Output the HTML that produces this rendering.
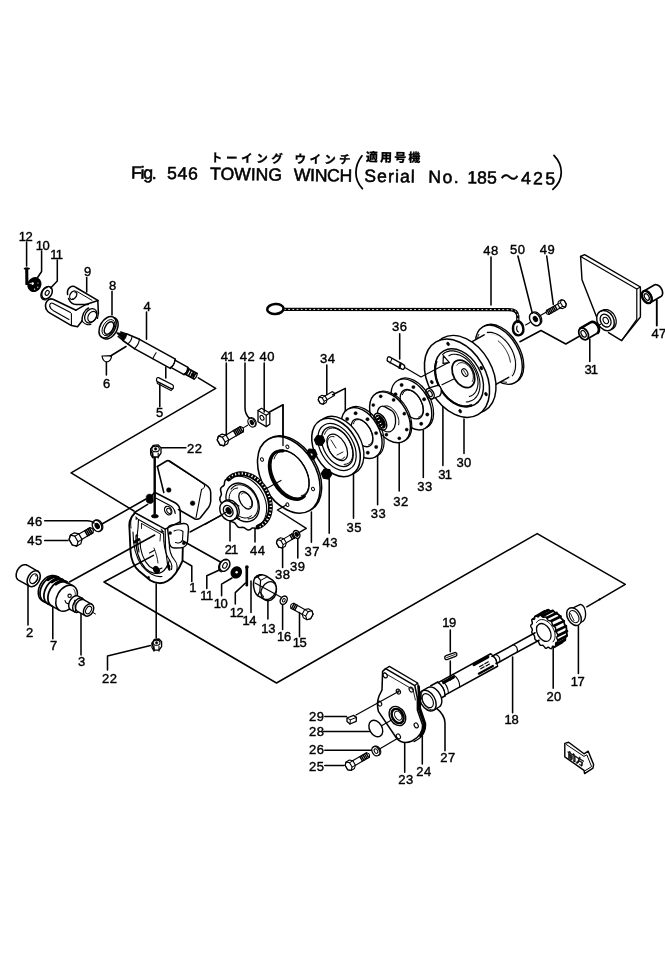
<!DOCTYPE html>
<html lang="ja">
<head>
<meta charset="utf-8">
<title>Fig. 546 TOWING WINCH</title>
<style>
html,body{margin:0;padding:0;background:#fff;}
body{width:665px;height:973px;overflow:hidden;}
svg{display:block;filter:grayscale(1);}
svg text{font-family:"Liberation Sans","Noto Sans CJK JP",sans-serif;fill:#000;}
svg text.n{stroke:#000;stroke-width:0.4px;}
</style>
</head>
<body>
<svg width="665" height="973" viewBox="0 0 665 973">
<rect x="0" y="0" width="665" height="973" fill="#fff"/>
<g>
<g transform="rotate(0.8 131 178.6)">
<text x="210.6" y="160.7" font-size="11.5" font-weight="bold" textLength="72" lengthAdjust="spacing" stroke="#000" stroke-width="0.3">トーイング</text>
<text x="294.4" y="160.7" font-size="11.5" font-weight="bold" textLength="56" lengthAdjust="spacing" stroke="#000" stroke-width="0.3">ウインチ</text>
<text x="365.6" y="158" font-size="12" font-weight="900" textLength="54.5" lengthAdjust="spacing" stroke="#000" stroke-width="0.2">適用号機</text>
<text x="131" y="178.6" font-size="17.6" font-weight="normal" textLength="25.6" lengthAdjust="spacing" stroke="#000" stroke-width="0.55">Fig.</text>
<text x="167" y="178.6" font-size="17.6" font-weight="normal" textLength="30.8" lengthAdjust="spacing" stroke="#000" stroke-width="0.55">546</text>
<text x="210" y="178.6" font-size="17.6" font-weight="normal" textLength="72" lengthAdjust="spacing" stroke="#000" stroke-width="0.55">TOWING</text>
<text x="293.8" y="178.6" font-size="17.6" font-weight="normal" textLength="58.4" lengthAdjust="spacing" stroke="#000" stroke-width="0.55">WINCH</text>
<text x="364.3" y="178.6" font-size="17.6" font-weight="normal" textLength="50.5" lengthAdjust="spacing" stroke="#000" stroke-width="0.55">Serial</text>
<text x="428.2" y="178.6" font-size="17.6" font-weight="normal" textLength="30.6" lengthAdjust="spacing" stroke="#000" stroke-width="0.55">No.</text>
<text x="467.2" y="178.6" font-size="17.6" font-weight="normal" textLength="29.6" lengthAdjust="spacing" stroke="#000" stroke-width="0.55">185</text>
<text x="500.5" y="178.6" font-size="18" font-weight="normal" textLength="18.5" lengthAdjust="spacing" stroke="#000" stroke-width="0.55">～</text>
<text x="521" y="178.6" font-size="17.6" font-weight="normal" textLength="34" lengthAdjust="spacing" stroke="#000" stroke-width="0.55">425</text>
<path d="M361.6 152.6 C354 163 353.5 176 362.5 185.4" fill="none" stroke="#000" stroke-width="1.76" stroke-linecap="round" stroke-linejoin="round"/>
<path d="M553.6 149.5 C563 159 564.5 173 553 183.5" fill="none" stroke="#000" stroke-width="1.76" stroke-linecap="round" stroke-linejoin="round"/>
</g>
<path d="M198.3 377.8 L215.7 388.4 L71.1 472.9 L134 511" fill="none" stroke="#000" stroke-width="1.54" stroke-linecap="round" stroke-linejoin="round"/>
<path d="M183 541 L220.5 562" fill="none" stroke="#000" stroke-width="1.54" stroke-linecap="round" stroke-linejoin="round"/>
<path d="M153.4 555.4 L104 582 L276.5 683 L537.2 533.6 L625.3 584.4 L586.8 606.8" fill="none" stroke="#000" stroke-width="1.54" stroke-linecap="round" stroke-linejoin="round"/>
<path d="M69.4 582 L154.7 535" fill="none" stroke="#000" stroke-width="1.54" stroke-linecap="round" stroke-linejoin="round"/>
<path d="M102 524 L146 499" fill="none" stroke="#000" stroke-width="1.54" stroke-linecap="round" stroke-linejoin="round"/>
<path d="M190 532 L225 513.4" fill="none" stroke="#000" stroke-width="1.54" stroke-linecap="round" stroke-linejoin="round"/>
<text class="n" x="18.7 25.6" y="240.5" font-size="13">12</text>
<path d="M26.6 242 L26.6 266" fill="none" stroke="#000" stroke-width="1.54" stroke-linecap="round" stroke-linejoin="round"/>
<text class="n" x="35.7 42.6" y="249.5" font-size="13">10</text>
<path d="M41.6 251 L41.6 271.5 L37.6 277.5" fill="none" stroke="#000" stroke-width="1.54" stroke-linecap="round" stroke-linejoin="round"/>
<text class="n" x="50.2 55.8" y="258.5" font-size="13">11</text>
<path d="M57.3 260 L57.3 281 L50.6 288" fill="none" stroke="#000" stroke-width="1.54" stroke-linecap="round" stroke-linejoin="round"/>
<text class="n" x="84" y="276" font-size="13">9</text>
<path d="M86.7 277.5 L86.7 292" fill="none" stroke="#000" stroke-width="1.54" stroke-linecap="round" stroke-linejoin="round"/>
<text class="n" x="109" y="289.5" font-size="13">8</text>
<path d="M112 291.5 L112 315" fill="none" stroke="#000" stroke-width="1.54" stroke-linecap="round" stroke-linejoin="round"/>
<text class="n" x="143.4" y="310.5" font-size="13">4</text>
<path d="M146.5 312 L146.5 339.3" fill="none" stroke="#000" stroke-width="1.54" stroke-linecap="round" stroke-linejoin="round"/>
<text class="n" x="103" y="388" font-size="13">6</text>
<path d="M106.4 362 L106.4 375" fill="none" stroke="#000" stroke-width="1.54" stroke-linecap="round" stroke-linejoin="round"/>
<path d="M110.5 356 L126 346.5" fill="none" stroke="#000" stroke-width="1.54" stroke-linecap="round" stroke-linejoin="round"/>
<text class="n" x="156" y="416.5" font-size="13">5</text>
<path d="M159.8 384 L159.8 406.7" fill="none" stroke="#000" stroke-width="1.54" stroke-linecap="round" stroke-linejoin="round"/>
<path d="M165.8 367 L165.8 378" fill="none" stroke="#000" stroke-width="1.54" stroke-linecap="round" stroke-linejoin="round"/>
<text class="n" x="220.8 227.2" y="361" font-size="13">41</text>
<path d="M226.3 363 L226.3 436" fill="none" stroke="#000" stroke-width="1.54" stroke-linecap="round" stroke-linejoin="round"/>
<text class="n" x="239.7 247.4" y="361" font-size="13">42</text>
<path d="M245 363 L245 408 Q245 414 249.5 418.4" fill="none" stroke="#000" stroke-width="1.54" stroke-linecap="round" stroke-linejoin="round"/>
<text class="n" x="259.5 267.2" y="361" font-size="13">40</text>
<path d="M264.2 363 L264.2 412" fill="none" stroke="#000" stroke-width="1.54" stroke-linecap="round" stroke-linejoin="round"/>
<text class="n" x="187 194.7" y="452.5" font-size="13">22</text>
<path d="M161.5 447.8 L185.9 447.8" fill="none" stroke="#000" stroke-width="1.54" stroke-linecap="round" stroke-linejoin="round"/>
<path d="M154.7 458 L154.7 513.4" fill="none" stroke="#000" stroke-width="2.42" stroke-linecap="round" stroke-linejoin="round"/>
<text class="n" x="27.3 35" y="525.7" font-size="13">46</text>
<path d="M44.7 520.7 L87 520.7 Q92 520.7 94 523" fill="none" stroke="#000" stroke-width="1.54" stroke-linecap="round" stroke-linejoin="round"/>
<text class="n" x="27.3 35" y="545" font-size="13">45</text>
<path d="M44.7 540.6 L68 540.6" fill="none" stroke="#000" stroke-width="1.54" stroke-linecap="round" stroke-linejoin="round"/>
<text class="n" x="26" y="637" font-size="13">2</text>
<path d="M28 585 L28 625" fill="none" stroke="#000" stroke-width="1.54" stroke-linecap="round" stroke-linejoin="round"/>
<text class="n" x="50" y="649.5" font-size="13">7</text>
<path d="M52.8 607.4 L52.8 638.7" fill="none" stroke="#000" stroke-width="1.54" stroke-linecap="round" stroke-linejoin="round"/>
<text class="n" x="78" y="666" font-size="13">3</text>
<path d="M81 613 L81 655" fill="none" stroke="#000" stroke-width="1.54" stroke-linecap="round" stroke-linejoin="round"/>
<text class="n" x="102 109.7" y="683" font-size="13">22</text>
<path d="M156.2 583.8 L156.2 638" fill="none" stroke="#000" stroke-width="1.54" stroke-linecap="round" stroke-linejoin="round"/>
<path d="M150.5 645.5 L107.5 656 L107.5 670" fill="none" stroke="#000" stroke-width="1.54" stroke-linecap="round" stroke-linejoin="round"/>
<text class="n" x="189.3" y="591.6" font-size="13">1</text>
<path d="M183 560.8 L191.8 566 L191.8 581.5" fill="none" stroke="#000" stroke-width="1.54" stroke-linecap="round" stroke-linejoin="round"/>
<text class="n" x="200.3 205.9" y="600" font-size="13">11</text>
<path d="M220.5 569.5 L206.8 575.8 L206.8 588.4" fill="none" stroke="#000" stroke-width="1.54" stroke-linecap="round" stroke-linejoin="round"/>
<text class="n" x="213.7 220.6" y="608.4" font-size="13">10</text>
<path d="M232 578 L221.6 584.2 L221.6 595.8" fill="none" stroke="#000" stroke-width="1.54" stroke-linecap="round" stroke-linejoin="round"/>
<text class="n" x="229.7 236.6" y="616.8" font-size="13">12</text>
<path d="M245.5 583 L235.3 592.6 L235.3 604" fill="none" stroke="#000" stroke-width="1.54" stroke-linecap="round" stroke-linejoin="round"/>
<text class="n" x="242.4 249.3" y="625.3" font-size="13">14</text>
<path d="M251 581 L251 612.6" fill="none" stroke="#000" stroke-width="1.54" stroke-linecap="round" stroke-linejoin="round"/>
<text class="n" x="261.3 268.2" y="632.6" font-size="13">13</text>
<path d="M267.9 601 L267.9 619" fill="none" stroke="#000" stroke-width="1.54" stroke-linecap="round" stroke-linejoin="round"/>
<text class="n" x="277.1 284" y="641" font-size="13">16</text>
<path d="M282.6 604 L282.6 629.5" fill="none" stroke="#000" stroke-width="1.54" stroke-linecap="round" stroke-linejoin="round"/>
<text class="n" x="292.7 299.6" y="647.4" font-size="13">15</text>
<path d="M299.5 612.6 L299.5 636.8" fill="none" stroke="#000" stroke-width="1.54" stroke-linecap="round" stroke-linejoin="round"/>
<text class="n" x="224.7 231.1" y="553.7" font-size="13">21</text>
<path d="M230 520 L230 541" fill="none" stroke="#000" stroke-width="1.54" stroke-linecap="round" stroke-linejoin="round"/>
<text class="n" x="250 257.7" y="554.7" font-size="13">44</text>
<path d="M255 528 L255 542" fill="none" stroke="#000" stroke-width="1.54" stroke-linecap="round" stroke-linejoin="round"/>
<text class="n" x="275 282.7" y="579" font-size="13">38</text>
<path d="M282.6 547 L282.6 567.4" fill="none" stroke="#000" stroke-width="1.54" stroke-linecap="round" stroke-linejoin="round"/>
<text class="n" x="290 297.7" y="570.5" font-size="13">39</text>
<path d="M297.8 538 L297.8 558" fill="none" stroke="#000" stroke-width="1.54" stroke-linecap="round" stroke-linejoin="round"/>
<text class="n" x="304.5 312.2" y="555.8" font-size="13">37</text>
<path d="M311.4 512 L311.4 542.3" fill="none" stroke="#000" stroke-width="1.54" stroke-linecap="round" stroke-linejoin="round"/>
<text class="n" x="320 327.7" y="363" font-size="13">34</text>
<path d="M326.8 365 L326.8 394.6" fill="none" stroke="#000" stroke-width="1.54" stroke-linecap="round" stroke-linejoin="round"/>
<path d="M332.6 394.7 L345.3 388.4 L345.3 412.6" fill="none" stroke="#000" stroke-width="1.54" stroke-linecap="round" stroke-linejoin="round"/>
<text class="n" x="392 399.7" y="331.3" font-size="13">36</text>
<path d="M399.7 333.7 L399.7 359" fill="none" stroke="#000" stroke-width="1.54" stroke-linecap="round" stroke-linejoin="round"/>
<text class="n" x="346.6 354.3" y="531.7" font-size="13">35</text>
<path d="M353.5 473 L353.5 518.2" fill="none" stroke="#000" stroke-width="1.54" stroke-linecap="round" stroke-linejoin="round"/>
<text class="n" x="370.7 378.4" y="517.6" font-size="13">33</text>
<path d="M377.6 455 L377.6 504.7" fill="none" stroke="#000" stroke-width="1.54" stroke-linecap="round" stroke-linejoin="round"/>
<text class="n" x="393.2 400.9" y="505.6" font-size="13">32</text>
<path d="M399.2 443 L399.2 491" fill="none" stroke="#000" stroke-width="1.54" stroke-linecap="round" stroke-linejoin="round"/>
<text class="n" x="417.3 425" y="491" font-size="13">33</text>
<path d="M423.3 430.5 L423.3 477.6" fill="none" stroke="#000" stroke-width="1.54" stroke-linecap="round" stroke-linejoin="round"/>
<text class="n" x="438.3 444.7" y="479" font-size="13">31</text>
<path d="M442.9 402 L442.9 465.6" fill="none" stroke="#000" stroke-width="1.54" stroke-linecap="round" stroke-linejoin="round"/>
<text class="n" x="456.4 464.1" y="467" font-size="13">30</text>
<path d="M464 419 L464 453.5" fill="none" stroke="#000" stroke-width="1.54" stroke-linecap="round" stroke-linejoin="round"/>
<text class="n" x="322.6 330.3" y="546.8" font-size="13">43</text>
<path d="M329.2 479 L329.2 533.2" fill="none" stroke="#000" stroke-width="1.54" stroke-linecap="round" stroke-linejoin="round"/>
<text class="n" x="483.3 491" y="254.5" font-size="13">48</text>
<path d="M491 257 L491 305" fill="none" stroke="#000" stroke-width="1.54" stroke-linecap="round" stroke-linejoin="round"/>
<text class="n" x="510 517.7" y="253.6" font-size="13">50</text>
<path d="M517.9 256 L532.3 313" fill="none" stroke="#000" stroke-width="1.54" stroke-linecap="round" stroke-linejoin="round"/>
<text class="n" x="539.7 547.4" y="253.6" font-size="13">49</text>
<path d="M546.7 256 L553.3 304.4" fill="none" stroke="#000" stroke-width="1.54" stroke-linecap="round" stroke-linejoin="round"/>
<text class="n" x="584.4 590.8" y="374" font-size="13">31</text>
<path d="M589.8 339 L589.8 361.5" fill="none" stroke="#000" stroke-width="1.54" stroke-linecap="round" stroke-linejoin="round"/>
<text class="n" x="651.4 659.1" y="338" font-size="13">47</text>
<path d="M656.8 300 L656.8 325.5" fill="none" stroke="#000" stroke-width="1.87" stroke-linecap="round" stroke-linejoin="round"/>
<text class="n" x="442.2 449.1" y="627.4" font-size="13">19</text>
<path d="M450.3 630 L450.3 651.7" fill="none" stroke="#000" stroke-width="1.54" stroke-linecap="round" stroke-linejoin="round"/>
<path d="M450.3 661 L450.3 680" fill="none" stroke="#000" stroke-width="1.54" stroke-linecap="round" stroke-linejoin="round"/>
<text class="n" x="504.5 511.4" y="723.5" font-size="13">18</text>
<path d="M512.6 657 L512.6 712.7" fill="none" stroke="#000" stroke-width="1.54" stroke-linecap="round" stroke-linejoin="round"/>
<text class="n" x="546.4 554.1" y="700.5" font-size="13">20</text>
<path d="M553.2 647.7 L553.2 688.3" fill="none" stroke="#000" stroke-width="1.54" stroke-linecap="round" stroke-linejoin="round"/>
<text class="n" x="570.7 577.6" y="685.6" font-size="13">17</text>
<path d="M578.4 626 L578.4 673.4" fill="none" stroke="#000" stroke-width="1.54" stroke-linecap="round" stroke-linejoin="round"/>
<text class="n" x="440.3 448" y="761.5" font-size="13">27</text>
<path d="M435.5 707.4 Q445 715 445 723 L445 750.7" fill="none" stroke="#000" stroke-width="1.54" stroke-linecap="round" stroke-linejoin="round"/>
<text class="n" x="416.2 423.9" y="776" font-size="13">24</text>
<path d="M422.3 736.2 L422.3 764" fill="none" stroke="#000" stroke-width="1.54" stroke-linecap="round" stroke-linejoin="round"/>
<text class="n" x="398.2 405.9" y="784.4" font-size="13">23</text>
<path d="M404.7 743.5 L404.7 772.3" fill="none" stroke="#000" stroke-width="1.54" stroke-linecap="round" stroke-linejoin="round"/>
<text class="n" x="309 316.7" y="720.6" font-size="13">29</text>
<path d="M324.8 716.5 L346.5 716.5" fill="none" stroke="#000" stroke-width="1.54" stroke-linecap="round" stroke-linejoin="round"/>
<text class="n" x="309 316.7" y="735.6" font-size="13">28</text>
<path d="M323.6 731.4 L369.3 731.4" fill="none" stroke="#000" stroke-width="1.54" stroke-linecap="round" stroke-linejoin="round"/>
<text class="n" x="309 316.7" y="754.4" font-size="13">26</text>
<path d="M324.8 750.2 L371.7 750.2" fill="none" stroke="#000" stroke-width="1.54" stroke-linecap="round" stroke-linejoin="round"/>
<text class="n" x="309 316.7" y="771" font-size="13">25</text>
<path d="M324.8 765.6 L344 765.6" fill="none" stroke="#000" stroke-width="1.54" stroke-linecap="round" stroke-linejoin="round"/>
<path d="M269.5 412 L283 404.7 L283 448" fill="none" stroke="#000" stroke-width="1.54" stroke-linecap="round" stroke-linejoin="round"/>
<path d="M519.9 341.7 L541 330.5 L565.8 344 L580.6 335.5" fill="none" stroke="#000" stroke-width="1.54" stroke-linecap="round" stroke-linejoin="round"/>
<path d="M26.7 267.5 L26.9 285" fill="none" stroke="#000" stroke-width="3.08" stroke-linecap="butt" stroke-linejoin="round"/>
<path d="M24.6 268.6 L29 268.6" fill="none" stroke="#000" stroke-width="1.76" stroke-linecap="round" stroke-linejoin="round"/>
<ellipse cx="34.4" cy="284.6" rx="6.2" ry="6.9" transform="rotate(30 34.4 284.6)" fill="#000" stroke="#000" stroke-width="1.54"/>
<circle cx="32.6" cy="283.6" r="1.3" fill="#fff" stroke="#000" stroke-width="0"/>
<circle cx="30.2" cy="283.4" r="0.6" fill="#fff" stroke="#000" stroke-width="0"/>
<circle cx="38" cy="283" r="0.6" fill="#fff" stroke="#000" stroke-width="0"/>
<circle cx="37.8" cy="287.2" r="0.6" fill="#fff" stroke="#000" stroke-width="0"/>
<circle cx="34.6" cy="289.2" r="0.6" fill="#fff" stroke="#000" stroke-width="0"/>
<ellipse cx="47" cy="292.7" rx="4.8" ry="6.6" transform="rotate(30 47 292.7)" fill="none" stroke="#000" stroke-width="1.54"/>
<ellipse cx="47.2" cy="292.9" rx="1.8" ry="2.6" transform="rotate(30 47.2 292.9)" fill="none" stroke="#000" stroke-width="1.1"/>
<path d="M45.4 299.8 L44.7 299.8 L44.1 299.7 L43.5 299.6 L42.9 299.3 L42.4 299 L41.9 298.5 L41.6 298 L41.3 297.4 L41.1 296.7 L40.9 295.9 L40.9 295.2 L41 294.4 L41.1 293.6 L41.3 292.8 L41.6 292 L42 291.2 L42.5 290.5 L43 289.8 L43.6 289.2 L44.2 288.7 L44.9 288.2 L45.6 287.9 L46.3 287.6 L47 287.5" fill="none" stroke="#000" stroke-width="1.32" stroke-linecap="round" stroke-linejoin="round"/>
<path d="M67.6 294.5 C66.5 288 72 284.5 76 287.5 L97.8 300.3 L98.4 313.5" fill="none" stroke="#000" stroke-width="1.54" stroke-linecap="round" stroke-linejoin="round"/>
<path d="M68.5 298.5 C70.5 303 74 304.8 77 304.5 L88.2 304.5" fill="none" stroke="#000" stroke-width="1.54" stroke-linecap="round" stroke-linejoin="round"/>
<ellipse cx="73.3" cy="295.2" rx="3.2" ry="4.6" transform="rotate(30 73.3 295.2)" fill="none" stroke="#000" stroke-width="1.21"/>
<path d="M74.8 292.3 L75.1 292.4 L75.5 292.5 L75.7 292.6 L76 292.8 L76.2 293.1 L76.3 293.4 L76.4 293.8 L76.5 294.1 L76.5 294.6 L76.5 295 L76.4 295.4 L76.3 295.8 L76.1 296.3 L75.9 296.7 L75.6 297.1 L75.3 297.4 L75 297.8 L74.7 298.1 L74.3 298.3 L74 298.5 L73.6 298.6 L73.2 298.7 L72.9 298.7 L72.6 298.6" fill="none" stroke="#000" stroke-width="0.99" stroke-linecap="round" stroke-linejoin="round"/>
<path d="M77 291.5 L92 300.3" fill="none" stroke="#000" stroke-width="0.99" stroke-linecap="round" stroke-linejoin="round"/>
<path d="M46.2 309 C44 303 48 297.5 53 299.3 L76 310.2" fill="none" stroke="#000" stroke-width="1.54" stroke-linecap="round" stroke-linejoin="round"/>
<path d="M46.2 309 C47 311 48 312 50 313.2 L71.5 325.6 L77.5 326.8 L82 321" fill="none" stroke="#000" stroke-width="1.54" stroke-linecap="round" stroke-linejoin="round"/>
<path d="M49.8 306.5 C49.2 303.5 51.2 302.4 53.2 303.4 L70.5 312.6" fill="none" stroke="#000" stroke-width="1.1" stroke-linecap="round" stroke-linejoin="round"/>
<path d="M49.8 306.5 C50.4 308.8 51.5 309.5 53 310.4 L69 319.4" fill="none" stroke="#000" stroke-width="1.1" stroke-linecap="round" stroke-linejoin="round"/>
<path d="M71.4 313.5 L71.4 325.3" fill="none" stroke="#000" stroke-width="1.1" stroke-linecap="round" stroke-linejoin="round"/>
<path d="M76 310.2 L86 304.4 L98 300.5" fill="none" stroke="#000" stroke-width="1.54" stroke-linecap="round" stroke-linejoin="round"/>
<path d="M82 321 C82 316 84 310 88.5 308" fill="none" stroke="#000" stroke-width="1.54" stroke-linecap="round" stroke-linejoin="round"/>
<ellipse cx="90.8" cy="315.8" rx="5.6" ry="7.6" transform="rotate(30 90.8 315.8)" fill="none" stroke="#000" stroke-width="1.32"/>
<ellipse cx="92.2" cy="316.6" rx="4" ry="5.6" transform="rotate(30 92.2 316.6)" fill="none" stroke="#000" stroke-width="1.1"/>
<path d="M98.4 313.5 L97.5 318.5" fill="none" stroke="#000" stroke-width="1.21" stroke-linecap="round" stroke-linejoin="round"/>
<path d="M82 321 C84 324 88 325.5 91 324.2" fill="none" stroke="#000" stroke-width="1.1" stroke-linecap="round" stroke-linejoin="round"/>
<ellipse cx="107.6" cy="327.2" rx="7.4" ry="11.6" transform="rotate(30 107.6 327.2)" fill="none" stroke="#000" stroke-width="1.54"/>
<path d="M114.1 317.8 L115.1 318.1 L116 318.7 L116.7 319.5 L117.3 320.4 L117.8 321.5 L118 322.8 L118.1 324.1 L118.1 325.6 L117.8 327.1 L117.4 328.6 L116.9 330.1 L116.2 331.6 L115.3 333 L114.3 334.3 L113.3 335.5 L112.2 336.5 L111 337.4 L109.7 338.1 L108.5 338.6 L107.3 338.9 L106.2 339 L105.1 338.9 L104.1 338.5 L103.2 338" fill="none" stroke="#000" stroke-width="1.54" stroke-linecap="round" stroke-linejoin="round"/>
<ellipse cx="109" cy="328" rx="3.9" ry="6.8" transform="rotate(30 109 328)" fill="none" stroke="#000" stroke-width="1.43"/>
<ellipse cx="108.4" cy="327.6" rx="5.4" ry="8.8" transform="rotate(30 108.4 327.6)" fill="none" stroke="#000" stroke-width="0.88"/>
<path d="M118.2 336.5 L123 340.3" fill="none" stroke="#000" stroke-width="1.54" stroke-linecap="round" stroke-linejoin="round"/>
<path d="M120.7 332 L126.4 334" fill="none" stroke="#000" stroke-width="1.54" stroke-linecap="round" stroke-linejoin="round"/>
<path d="M122.9 340.5 L134.4 348.6" fill="none" stroke="#000" stroke-width="1.54" stroke-linecap="round" stroke-linejoin="round"/>
<path d="M126.5 333.8 L139.5 339.3" fill="none" stroke="#000" stroke-width="1.54" stroke-linecap="round" stroke-linejoin="round"/>
<path d="M134.4 348.6 L170.3 368.4" fill="none" stroke="#000" stroke-width="1.54" stroke-linecap="round" stroke-linejoin="round"/>
<path d="M139.5 339.3 L175.4 359.1" fill="none" stroke="#000" stroke-width="1.54" stroke-linecap="round" stroke-linejoin="round"/>
<path d="M170.8 367.4 L184 374.7" fill="none" stroke="#000" stroke-width="1.54" stroke-linecap="round" stroke-linejoin="round"/>
<path d="M174.9 360.1 L188 367.3" fill="none" stroke="#000" stroke-width="1.54" stroke-linecap="round" stroke-linejoin="round"/>
<path d="M184.4 373.8 L194.1 379.1" fill="none" stroke="#000" stroke-width="1.54" stroke-linecap="round" stroke-linejoin="round"/>
<path d="M187.5 368.2 L197.2 373.5" fill="none" stroke="#000" stroke-width="1.54" stroke-linecap="round" stroke-linejoin="round"/>
<path d="M116.8 332.8 L123.2 340 L126.3 334.4 Z" fill="#000" stroke="#000" stroke-width="1.1" stroke-linecap="round" stroke-linejoin="round"/>
<path d="M122.9 340.4 Q126.3 338.1 126.5 333.9" fill="none" stroke="#000" stroke-width="1.1" stroke-linecap="round" stroke-linejoin="round"/>
<path d="M127.8 343.9 Q131.6 341 132.1 336.2" fill="none" stroke="#000" stroke-width="1.1" stroke-linecap="round" stroke-linejoin="round"/>
<path d="M134.4 348.6 Q138.6 344.8 139.5 339.3" fill="none" stroke="#000" stroke-width="1.1" stroke-linecap="round" stroke-linejoin="round"/>
<path d="M170.3 368.4 Q174.5 364.7 175.4 359.1" fill="none" stroke="#000" stroke-width="1.1" stroke-linecap="round" stroke-linejoin="round"/>
<path d="M170.8 367.4 Q174.5 364.7 174.9 360.1" fill="none" stroke="#000" stroke-width="1.1" stroke-linecap="round" stroke-linejoin="round"/>
<path d="M184 374.7 Q187.6 371.9 188 367.3" fill="none" stroke="#000" stroke-width="1.1" stroke-linecap="round" stroke-linejoin="round"/>
<path d="M184.4 373.8 Q187.6 371.9 187.5 368.2" fill="none" stroke="#000" stroke-width="1.1" stroke-linecap="round" stroke-linejoin="round"/>
<path d="M194.1 379.1 Q197.2 377.2 197.2 373.5" fill="none" stroke="#000" stroke-width="1.1" stroke-linecap="round" stroke-linejoin="round"/>
<path d="M156.1 352.8 Q154.1 355.7 152.8 358.7" fill="none" stroke="#000" stroke-width="1.1" stroke-linecap="round" stroke-linejoin="round"/>
<path d="M186.3 374.6 L189.2 369.3" fill="none" stroke="#000" stroke-width="1.54" stroke-linecap="round" stroke-linejoin="round"/>
<path d="M188.5 375.8 L191.4 370.5" fill="none" stroke="#000" stroke-width="1.54" stroke-linecap="round" stroke-linejoin="round"/>
<path d="M190.7 377 L193.6 371.8" fill="none" stroke="#000" stroke-width="1.54" stroke-linecap="round" stroke-linejoin="round"/>
<path d="M192.9 378.2 L195.8 373" fill="none" stroke="#000" stroke-width="1.54" stroke-linecap="round" stroke-linejoin="round"/>
<circle cx="193" cy="374.9" r="1.8" fill="#000" stroke="#000" stroke-width="0.55"/>
<path d="M102 356 L111.6 355.6 C111.6 359 109.5 362 106.5 362 C104 361.5 102.5 359 102 356 Z" fill="none" stroke="#000" stroke-width="1.21" stroke-linecap="round" stroke-linejoin="round"/>
<path d="M158.6 377.6 L172.5 384.8 C174.2 385.8 173.5 389.4 171.2 388.6 L157.4 381.6 C155.6 380.6 156.6 376.8 158.6 377.6 Z" fill="none" stroke="#000" stroke-width="1.21" stroke-linecap="round" stroke-linejoin="round"/>
<path d="M157.2 381.8 L157.4 383.6 L171 390.6 L173.2 388.4" fill="none" stroke="#000" stroke-width="1.1" stroke-linecap="round" stroke-linejoin="round"/>
<path d="M228.1 440.4 L243.2 431.7" fill="none" stroke="#000" stroke-width="1.21" stroke-linecap="round" stroke-linejoin="round"/>
<path d="M225.2 435.4 L240.3 426.6" fill="none" stroke="#000" stroke-width="1.21" stroke-linecap="round" stroke-linejoin="round"/>
<path d="M243.2 431.7 Q244.7 427.4 240.3 426.6" fill="none" stroke="#000" stroke-width="1.21" stroke-linecap="round" stroke-linejoin="round"/>
<path d="M242.7 432 L239.8 426.9" fill="none" stroke="#000" stroke-width="1.54" stroke-linecap="round" stroke-linejoin="round"/>
<path d="M241.1 432.9 L238.2 427.8" fill="none" stroke="#000" stroke-width="1.54" stroke-linecap="round" stroke-linejoin="round"/>
<path d="M239.5 433.8 L236.6 428.7" fill="none" stroke="#000" stroke-width="1.54" stroke-linecap="round" stroke-linejoin="round"/>
<path d="M238 434.7 L235.1 429.6" fill="none" stroke="#000" stroke-width="1.54" stroke-linecap="round" stroke-linejoin="round"/>
<path d="M236.4 435.6 L233.5 430.5" fill="none" stroke="#000" stroke-width="1.54" stroke-linecap="round" stroke-linejoin="round"/>
<path d="M224 445.8 L220 444.9 L217.2 440 L218.4 436.2 L222 434.1 L226 435 L228.8 439.9 L227.6 443.7 Z" fill="#fff" stroke="#000" stroke-width="1.21" stroke-linecap="round" stroke-linejoin="round"/>
<path d="M224 445.8 L225.2 442 L222.3 437.1 L218.4 436.2 L217.2 440 L220 444.9 Z" fill="none" stroke="#000" stroke-width="1.21" stroke-linecap="round" stroke-linejoin="round"/>
<path d="M225.2 442 L228.8 439.9" fill="none" stroke="#000" stroke-width="1.09" stroke-linecap="round" stroke-linejoin="round"/>
<path d="M222.3 437.1 L226 435" fill="none" stroke="#000" stroke-width="1.09" stroke-linecap="round" stroke-linejoin="round"/>
<ellipse cx="251.6" cy="422.6" rx="3.3" ry="4.8" transform="rotate(-30 251.6 422.6)" fill="none" stroke="#000" stroke-width="1.21"/>
<ellipse cx="251.8" cy="422.5" rx="1.4" ry="2.2" transform="rotate(-30 251.8 422.5)" fill="#000" stroke="#000" stroke-width="1.1"/>
<path d="M249.6 418.3 L250 418 L250.4 417.8 L250.9 417.7 L251.4 417.6 L252 417.7 L252.5 417.9 L253 418.1 L253.6 418.4 L254.1 418.8 L254.5 419.3 L255 419.9 L255.4 420.5 L255.7 421.1 L255.9 421.7 L256.1 422.4 L256.2 423 L256.2 423.6 L256.2 424.2 L256 424.8 L255.8 425.3 L255.6 425.7 L255.2 426 L254.8 426.3 L254.4 426.5" fill="none" stroke="#000" stroke-width="1.1" stroke-linecap="round" stroke-linejoin="round"/>
<path d="M258 410.5 L261.5 408.3 L269.8 413 L269.8 424.2 L266.2 426.6 L258 421.8 Z" fill="none" stroke="#000" stroke-width="1.32" stroke-linecap="round" stroke-linejoin="round"/>
<path d="M266.2 426.6 L266.2 415.2 L258 410.5" fill="none" stroke="#000" stroke-width="1.1" stroke-linecap="round" stroke-linejoin="round"/>
<path d="M266.2 415.2 L269.8 413" fill="none" stroke="#000" stroke-width="1.1" stroke-linecap="round" stroke-linejoin="round"/>
<ellipse cx="262" cy="417.8" rx="1.7" ry="2.6" transform="rotate(-30 262 417.8)" fill="none" stroke="#000" stroke-width="1.1"/>
<path d="M150.6 449.2 l2.6 -3.9 l5 -0.4 l2.8 3 l0 5.2 l-2.8 3.9 l-5 0 Z" fill="none" stroke="#000" stroke-width="1.32" stroke-linecap="round" stroke-linejoin="round"/>
<ellipse cx="155.6" cy="448.9" rx="3.7" ry="2.8" transform="rotate(0 155.6 448.9)" fill="none" stroke="#000" stroke-width="1.1"/>
<path d="M152.8 452.4 L152.8 457.5" fill="none" stroke="#000" stroke-width="1.1" stroke-linecap="round" stroke-linejoin="round"/>
<path d="M158.2 453 L158.2 457.9" fill="none" stroke="#000" stroke-width="1.1" stroke-linecap="round" stroke-linejoin="round"/>
<path d="M150.6 449.2 l0 5.2 l2.2 3.5" fill="none" stroke="#000" stroke-width="1.21" stroke-linecap="round" stroke-linejoin="round"/>
<circle cx="155.6" cy="448.9" r="1.3" fill="#000" stroke="#000" stroke-width="0.44"/>
<path d="M152 643 l2.4 -3.6 l4.6 -0.4 l2.6 2.8 l0 4.8 l-2.6 3.6 l-4.6 0 Z" fill="none" stroke="#000" stroke-width="1.32" stroke-linecap="round" stroke-linejoin="round"/>
<ellipse cx="156.6" cy="642.7" rx="3.4" ry="2.6" transform="rotate(0 156.6 642.7)" fill="none" stroke="#000" stroke-width="1.1"/>
<path d="M154 646 L154 650.7" fill="none" stroke="#000" stroke-width="1.1" stroke-linecap="round" stroke-linejoin="round"/>
<path d="M159 646.5 L159 651.1" fill="none" stroke="#000" stroke-width="1.1" stroke-linecap="round" stroke-linejoin="round"/>
<path d="M152 643 l0 4.8 l2 3.2" fill="none" stroke="#000" stroke-width="1.21" stroke-linecap="round" stroke-linejoin="round"/>
<circle cx="156.6" cy="642.7" r="1.2" fill="#000" stroke="#000" stroke-width="0.44"/>
<path d="M157.4 466.5 L166.5 461 Q168 460.2 169.5 461 L205.8 484.8 Q210.7 488 210.7 492.5 L210.7 501.5 Q210.2 505 208.5 507.5 L200.2 518 Q198 520 195 519 L178.5 509.5" fill="none" stroke="#000" stroke-width="1.54" stroke-linecap="round" stroke-linejoin="round"/>
<path d="M157.4 466.5 L163.8 492.5" fill="none" stroke="#000" stroke-width="1.54" stroke-linecap="round" stroke-linejoin="round"/>
<path d="M201.6 489.2 L196 517.6" fill="none" stroke="#000" stroke-width="1.1" stroke-linecap="round" stroke-linejoin="round"/>
<path d="M169 461.5 Q203 483 204.5 485 Q206 487 202 489.5" fill="none" stroke="#000" stroke-width="0.99" stroke-linecap="round" stroke-linejoin="round"/>
<circle cx="168.8" cy="490" r="2.3" fill="#000" stroke="#000" stroke-width="0.55"/>
<circle cx="192.6" cy="503.2" r="2.3" fill="#000" stroke="#000" stroke-width="0.55"/>
<path d="M134.5 512.5 L147.6 504.4" fill="none" stroke="#000" stroke-width="1.54" stroke-linecap="round" stroke-linejoin="round"/>
<path d="M134.5 512.5 L165.2 529.2 L180.4 521.6" fill="none" stroke="#000" stroke-width="1.43" stroke-linecap="round" stroke-linejoin="round"/>
<path d="M146.5 496 C147.5 493.5 151.5 493.8 152.8 495.8 L153.2 501.5 C152.5 504 148.5 504 146.8 502 Z" fill="#000" stroke="#000" stroke-width="0.88" stroke-linecap="round" stroke-linejoin="round"/>
<path d="M150.5 497.5 L154.6 492.2 L175.5 503 C179.4 505.2 180.4 508.5 180.2 513 L180.4 522.5" fill="none" stroke="#000" stroke-width="1.54" stroke-linecap="round" stroke-linejoin="round"/>
<path d="M156.2 498.2 L170.5 505.8 C173.5 507.6 175 510 175.2 513.5" fill="none" stroke="#000" stroke-width="1.1" stroke-linecap="round" stroke-linejoin="round"/>
<ellipse cx="168.2" cy="510.6" rx="3.3" ry="4.6" transform="rotate(-30 168.2 510.6)" fill="none" stroke="#000" stroke-width="1.21"/>
<ellipse cx="168.9" cy="510.9" rx="1.9" ry="2.8" transform="rotate(-30 168.9 510.9)" fill="none" stroke="#000" stroke-width="0.99"/>
<path d="M165.2 529.2 L165.4 545" fill="none" stroke="#000" stroke-width="1.21" stroke-linecap="round" stroke-linejoin="round"/>
<ellipse cx="154.9" cy="516.2" rx="3.4" ry="1.7" transform="rotate(0 154.9 516.2)" fill="#000" stroke="#000" stroke-width="0.88"/>
<path d="M134.5 513.5 C129.5 518 128.5 524 129.6 531 L130.5 551 C131 560 134 566.5 139 571 L150.5 580.5 C156 584 163 584 167.5 581 C174 577 179 569 182.5 560.8 L182.8 548" fill="none" stroke="#000" stroke-width="1.87" stroke-linecap="round" stroke-linejoin="round"/>
<path d="M131.5 517 C130.5 521 130.5 524 131 528" fill="none" stroke="#000" stroke-width="0.99" stroke-linecap="round" stroke-linejoin="round"/>
<path d="M167.8 530.5 C167 527 169 525.5 172 525 L183.5 523.5 C187.5 523.3 188.5 525.5 188.5 529 L187.5 541.5 C187 545.5 184.5 547.5 181 547.8 L174.5 548 C171 548 169.5 545.5 169.2 542 Z" fill="none" stroke="#000" stroke-width="1.43" stroke-linecap="round" stroke-linejoin="round"/>
<path d="M174 531 C177 529.5 181 529.5 183 531.5 L182.5 540 C181.5 542.8 178 543.5 175.5 542.5" fill="none" stroke="#000" stroke-width="1.1" stroke-linecap="round" stroke-linejoin="round"/>
<circle cx="170.2" cy="533" r="1.5" fill="#000" stroke="#000" stroke-width="0.44"/>
<circle cx="183.8" cy="543.2" r="1.5" fill="#000" stroke="#000" stroke-width="0.44"/>
<path d="M138.5 519.5 L163.5 533.5 L163.8 541" fill="none" stroke="#000" stroke-width="1.1" stroke-linecap="round" stroke-linejoin="round"/>
<path d="M138.5 519.5 L138 528 C137 534 137.5 545 139 552" fill="none" stroke="#000" stroke-width="1.1" stroke-linecap="round" stroke-linejoin="round"/>
<path d="M141.5 523.5 L160.5 534 L160 541 " fill="none" stroke="#000" stroke-width="0.88" stroke-linecap="round" stroke-linejoin="round"/>
<path d="M141.5 523.5 L141.5 528.5" fill="none" stroke="#000" stroke-width="0.88" stroke-linecap="round" stroke-linejoin="round"/>
<path d="M136 536 C135.5 548 138 560 145.5 568.5 C150 573 157 575 162 572 C166 569.5 168 565 169.5 560" fill="none" stroke="#000" stroke-width="1.21" stroke-linecap="round" stroke-linejoin="round"/>
<path d="M140 540 C140 551 143 560 149.5 566.5 C154 570 158.5 570 162 568" fill="none" stroke="#000" stroke-width="1.1" stroke-linecap="round" stroke-linejoin="round"/>
<path d="M163.8 541 C164.5 550 166.5 556 169.5 560 C171.5 563 172.5 566 171.5 569.5" fill="none" stroke="#000" stroke-width="1.1" stroke-linecap="round" stroke-linejoin="round"/>
<path d="M169.2 542 C169 550 171 556 174.5 560 C177.5 563.5 178 567 176.5 572" fill="none" stroke="#000" stroke-width="1.1" stroke-linecap="round" stroke-linejoin="round"/>
<path d="M154 548 C156 553 157.5 558 158 563" fill="none" stroke="#000" stroke-width="0.88" stroke-linecap="round" stroke-linejoin="round"/>
<path d="M133 532 C133 545 135.5 557 142 566 C147 572.5 155 577.5 162 576.5" fill="none" stroke="#000" stroke-width="1.1" stroke-linecap="round" stroke-linejoin="round"/>
<path d="M134.6 542 L139 539.4" fill="none" stroke="#000" stroke-width="2.64" stroke-linecap="round" stroke-linejoin="round"/>
<path d="M165.4 545 C166 556 167.5 562 168 568" fill="none" stroke="#000" stroke-width="1.1" stroke-linecap="round" stroke-linejoin="round"/>
<path d="M168 564 L169.4 569.5" fill="none" stroke="#000" stroke-width="2.42" stroke-linecap="round" stroke-linejoin="round"/>
<ellipse cx="156.4" cy="569.8" rx="3.6" ry="2.6" transform="rotate(60 156.4 569.8)" fill="#000" stroke="#000" stroke-width="1.1"/>
<circle cx="136.8" cy="535.5" r="1.1" fill="#000" stroke="#000" stroke-width="0.33"/>
<circle cx="148.5" cy="577.5" r="1.2" fill="#000" stroke="#000" stroke-width="0.33"/>
<circle cx="169" cy="566.5" r="1.2" fill="#000" stroke="#000" stroke-width="0.33"/>
<path d="M136 516.8 L138 518.8 L136.2 519.4 Z" fill="#000" stroke="#000" stroke-width="0.55" stroke-linecap="round" stroke-linejoin="round"/>
<path d="M161.5 529 L164 532.2 L161.5 532 Z" fill="#000" stroke="#000" stroke-width="0.55" stroke-linecap="round" stroke-linejoin="round"/>
<path d="M149.5 553 L154.5 550.3" fill="none" stroke="#000" stroke-width="1.1" stroke-linecap="round" stroke-linejoin="round"/>
<ellipse cx="97" cy="526" rx="4.4" ry="6" transform="rotate(-30 97 526)" fill="none" stroke="#000" stroke-width="1.32"/>
<ellipse cx="97.2" cy="525.9" rx="1.9" ry="2.8" transform="rotate(-30 97.2 525.9)" fill="#000" stroke="#000" stroke-width="1.1"/>
<path d="M94.4 520.8 L94.9 520.4 L95.5 520.1 L96.1 519.9 L96.8 519.9 L97.4 519.9 L98.2 520.1 L98.9 520.4 L99.5 520.8 L100.2 521.3 L100.8 521.9 L101.3 522.6 L101.8 523.3 L102.2 524.1 L102.5 524.9 L102.7 525.7 L102.8 526.5 L102.8 527.3 L102.7 528.1 L102.6 528.8 L102.3 529.4 L101.9 529.9 L101.4 530.4 L100.9 530.8 L100.3 531" fill="none" stroke="#000" stroke-width="1.21" stroke-linecap="round" stroke-linejoin="round"/>
<path d="M81.1 539.8 L92.9 532.9" fill="none" stroke="#000" stroke-width="1.21" stroke-linecap="round" stroke-linejoin="round"/>
<path d="M78.1 534.6 L89.9 527.7" fill="none" stroke="#000" stroke-width="1.21" stroke-linecap="round" stroke-linejoin="round"/>
<path d="M92.9 532.9 Q94.6 528.5 89.9 527.7" fill="none" stroke="#000" stroke-width="1.21" stroke-linecap="round" stroke-linejoin="round"/>
<path d="M92.4 533.2 L89.4 528" fill="none" stroke="#000" stroke-width="1.54" stroke-linecap="round" stroke-linejoin="round"/>
<path d="M90.9 534.1 L87.9 528.9" fill="none" stroke="#000" stroke-width="1.54" stroke-linecap="round" stroke-linejoin="round"/>
<path d="M89.3 535 L86.3 529.8" fill="none" stroke="#000" stroke-width="1.54" stroke-linecap="round" stroke-linejoin="round"/>
<path d="M87.7 535.9 L84.7 530.7" fill="none" stroke="#000" stroke-width="1.54" stroke-linecap="round" stroke-linejoin="round"/>
<path d="M76.8 546.1 L72.3 545 L69.1 539.5 L70.4 535.1 L74.4 532.8 L78.8 533.9 L82 539.4 L80.8 543.8 Z" fill="#fff" stroke="#000" stroke-width="1.21" stroke-linecap="round" stroke-linejoin="round"/>
<path d="M76.8 546.1 L78 541.7 L74.8 536.2 L70.4 535.1 L69.1 539.5 L72.3 545 Z" fill="none" stroke="#000" stroke-width="1.21" stroke-linecap="round" stroke-linejoin="round"/>
<path d="M78 541.7 L82 539.4" fill="none" stroke="#000" stroke-width="1.09" stroke-linecap="round" stroke-linejoin="round"/>
<path d="M74.8 536.2 L78.8 533.9" fill="none" stroke="#000" stroke-width="1.09" stroke-linecap="round" stroke-linejoin="round"/>
<path d="M38 571.3 L27.1 565.2 L26.2 564.8 L25.3 564.7 L24.3 564.7 L23.3 564.9 L22.3 565.3 L21.2 565.9 L20.2 566.7 L19.3 567.6 L18.5 568.6 L17.7 569.7 L17.1 570.9 L16.7 572.2 L16.3 573.4 L16.2 574.7 L16.2 575.9 L16.3 577 L16.7 578 L17.1 578.8 L17.7 579.5 L18.5 580.1 L29.4 586.1" fill="#fff" stroke="#000" stroke-width="1.54" stroke-linecap="round" stroke-linejoin="round"/>
<ellipse cx="33.7" cy="578.7" rx="5.8" ry="8.6" transform="rotate(30 33.7 578.7)" fill="#fff" stroke="#000" stroke-width="1.54"/>
<ellipse cx="33.7" cy="578.7" rx="3.4" ry="5.2" transform="rotate(30 33.7 578.7)" fill="none" stroke="#000" stroke-width="1.21"/>
<path d="M35.4 575.8 L35.8 575.7 L36.2 575.7 L36.5 575.8 L36.8 575.9 L37.1 576.1 L37.3 576.4 L37.5 576.7 L37.6 577 L37.7 577.4 L37.7 577.8 L37.7 578.3 L37.7 578.8 L37.6 579.2 L37.4 579.7 L37.2 580.2 L37 580.6 L36.7 581.1 L36.4 581.5 L36 581.9 L35.7 582.2 L35.3 582.5 L34.9 582.7 L34.5 582.9 L34.2 583" fill="none" stroke="#000" stroke-width="0.99" stroke-linecap="round" stroke-linejoin="round"/>
<path d="M73.6 586.1 L56.1 576.4 L54.7 575.8 L53.2 575.5 L51.6 575.5 L49.9 575.9 L48.2 576.5 L46.5 577.5 L44.9 578.7 L43.4 580.2 L42 581.9 L40.8 583.7 L39.8 585.7 L39 587.7 L38.5 589.7 L38.3 591.7 L38.3 593.7 L38.6 595.5 L39.1 597.1 L39.9 598.6 L40.9 599.7 L42.1 600.6 L59.6 610.3" fill="#fff" stroke="#000" stroke-width="1.54" stroke-linecap="round" stroke-linejoin="round"/>
<ellipse cx="66.6" cy="598.2" rx="9.6" ry="14" transform="rotate(30 66.6 598.2)" fill="#fff" stroke="#000" stroke-width="1.54"/>
<path d="M52.5 606.3 L51.3 605.7 L50.3 604.8 L49.4 603.8 L48.7 602.5 L48.2 601.1 L48 599.5 L47.9 597.9 L48 596.1 L48.3 594.3 L48.8 592.5 L49.5 590.8 L50.4 589 L51.5 587.4 L52.6 585.9 L53.9 584.6 L55.3 583.4 L56.8 582.4 L58.3 581.7 L59.8 581.1 L61.3 580.8 L62.7 580.8 L64 581 L65.3 581.5 L66.4 582.2" fill="none" stroke="#000" stroke-width="1.76" stroke-linecap="round" stroke-linejoin="round"/>
<path d="M48.5 604.2 L47.4 603.5 L46.4 602.7 L45.5 601.6 L44.8 600.3 L44.3 598.9 L44 597.4 L43.9 595.7 L44 593.9 L44.4 592.1 L44.9 590.3 L45.6 588.6 L46.5 586.9 L47.5 585.2 L48.7 583.7 L50 582.4 L51.4 581.2 L52.8 580.2 L54.3 579.5 L55.8 578.9 L57.3 578.7 L58.7 578.6 L60.1 578.8 L61.4 579.3 L62.5 580" fill="none" stroke="#000" stroke-width="1.76" stroke-linecap="round" stroke-linejoin="round"/>
<path d="M44.6 602 L43.4 601.3 L42.4 600.5 L41.6 599.4 L40.9 598.2 L40.4 596.7 L40.1 595.2 L40 593.5 L40.1 591.8 L40.4 590 L40.9 588.2 L41.7 586.4 L42.5 584.7 L43.6 583 L44.8 581.5 L46.1 580.2 L47.5 579 L48.9 578 L50.4 577.3 L51.9 576.8 L53.4 576.5 L54.8 576.4 L56.2 576.7 L57.4 577.1 L58.6 577.8" fill="none" stroke="#000" stroke-width="1.76" stroke-linecap="round" stroke-linejoin="round"/>
<path d="M55.9 584.1 L56.4 583.7 L56.8 583.4 L57.3 583.1 L57.8 582.8 L58.3 582.6 L58.8 582.3 L59.3 582.1 L59.7 581.9 L60.2 581.7 L60.7 581.6 L61.2 581.5 L61.7 581.4 L62.2 581.3 L62.6 581.3 L63.1 581.3 L63.6 581.3 L64 581.3 L64.5 581.4 L64.9 581.5 L65.3 581.6 L65.7 581.8 L66.1 582 L66.5 582.1 L66.9 582.4" fill="none" stroke="#000" stroke-width="2.86" stroke-linecap="round" stroke-linejoin="round"/>
<path d="M52 581.9 L52.4 581.6 L52.9 581.2 L53.4 580.9 L53.9 580.6 L54.3 580.4 L54.8 580.1 L55.3 579.9 L55.8 579.7 L56.3 579.6 L56.8 579.4 L57.3 579.3 L57.8 579.2 L58.2 579.1 L58.7 579.1 L59.2 579.1 L59.6 579.1 L60.1 579.2 L60.5 579.2 L61 579.3 L61.4 579.4 L61.8 579.6 L62.2 579.8 L62.6 580 L63 580.2" fill="none" stroke="#000" stroke-width="2.86" stroke-linecap="round" stroke-linejoin="round"/>
<path d="M48 579.7 L48.5 579.4 L49 579.1 L49.4 578.7 L49.9 578.5 L50.4 578.2 L50.9 577.9 L51.4 577.7 L51.9 577.5 L52.4 577.4 L52.9 577.2 L53.3 577.1 L53.8 577 L54.3 577 L54.8 576.9 L55.2 576.9 L55.7 576.9 L56.2 577 L56.6 577 L57 577.1 L57.5 577.3 L57.9 577.4 L58.3 577.6 L58.6 577.8 L59 578" fill="none" stroke="#000" stroke-width="2.86" stroke-linecap="round" stroke-linejoin="round"/>
<circle cx="69.6" cy="595.8" r="1.7" fill="none" stroke="#000" stroke-width="1.1"/>
<path d="M65 600.5 C65.5 603.8 69.5 604.8 71 602.2" fill="none" stroke="#000" stroke-width="1.21" stroke-linecap="round" stroke-linejoin="round"/>
<path d="M73.4 589.1 L73.6 589.3 L73.8 589.5 L74 589.7 L74.1 589.9 L74.3 590.2 L74.4 590.5 L74.6 590.7 L74.7 591 L74.8 591.3 L74.9 591.6 L75 591.9 L75.1 592.2 L75.2 592.5 L75.2 592.9 L75.3 593.2 L75.3 593.6 L75.3 593.9 L75.3 594.3 L75.3 594.6 L75.3 595 L75.3 595.4 L75.3 595.8 L75.2 596.1 L75.2 596.5" fill="none" stroke="#000" stroke-width="0.88" stroke-linecap="round" stroke-linejoin="round"/>
<path d="M82.5 598.4 L78.6 596.3 L77.8 595.9 L77 595.8 L76.1 595.8 L75.2 596 L74.2 596.4 L73.3 596.9 L72.4 597.6 L71.6 598.5 L70.8 599.4 L70.2 600.4 L69.6 601.5 L69.2 602.6 L68.9 603.8 L68.7 604.9 L68.7 606 L68.9 607 L69.1 607.9 L69.6 608.6 L70.1 609.3 L70.8 609.8 L74.7 612" fill="#fff" stroke="#000" stroke-width="1.43" stroke-linecap="round" stroke-linejoin="round"/>
<ellipse cx="78.6" cy="605.2" rx="5.2" ry="7.8" transform="rotate(30 78.6 605.2)" fill="#fff" stroke="#000" stroke-width="1.43"/>
<path d="M74.6 600.2 L75.6 611.5" fill="none" stroke="#000" stroke-width="0.99" stroke-linecap="round" stroke-linejoin="round"/>
<path d="M91.9 604.3 L84 599.9 L83.4 599.6 L82.6 599.5 L81.9 599.5 L81.1 599.7 L80.2 600 L79.4 600.4 L78.7 601 L78 601.7 L77.3 602.5 L76.7 603.3 L76.3 604.3 L75.9 605.2 L75.7 606.2 L75.6 607.1 L75.6 608.1 L75.7 608.9 L76 609.7 L76.4 610.4 L76.8 610.9 L77.4 611.4 L85.3 615.7" fill="#fff" stroke="#000" stroke-width="1.43" stroke-linecap="round" stroke-linejoin="round"/>
<ellipse cx="88.6" cy="610" rx="4.6" ry="6.6" transform="rotate(30 88.6 610)" fill="#fff" stroke="#000" stroke-width="1.43"/>
<ellipse cx="88.6" cy="610" rx="2.6" ry="4" transform="rotate(30 88.6 610)" fill="none" stroke="#000" stroke-width="1.1"/>
<path d="M92.5 612.2 L95.5 614" fill="none" stroke="#000" stroke-width="0.99" stroke-linecap="round" stroke-linejoin="round"/>
</g>
<g>
<path d="M389.5 356.8 L403.5 364.6 C405.8 365.8 404.4 370.4 402 369.2 L388 361.4 C386.2 360.4 387.5 355.8 389.5 356.8 Z" fill="none" stroke="#000" stroke-width="1.32" stroke-linecap="round" stroke-linejoin="round"/>
<path d="M391.8 358.8 L390.2 363.2" fill="none" stroke="#000" stroke-width="0.99" stroke-linecap="round" stroke-linejoin="round"/>
<path d="M400.6 363.6 L399.4 368" fill="none" stroke="#000" stroke-width="2.2" stroke-linecap="round" stroke-linejoin="round"/>
<path d="M326.6 400 L334.3 395.6" fill="none" stroke="#000" stroke-width="1.1" stroke-linecap="round" stroke-linejoin="round"/>
<path d="M324.4 396.2 L332.1 391.7" fill="none" stroke="#000" stroke-width="1.1" stroke-linecap="round" stroke-linejoin="round"/>
<path d="M334.3 395.6 Q335.5 392.3 332.1 391.7" fill="none" stroke="#000" stroke-width="1.1" stroke-linecap="round" stroke-linejoin="round"/>
<path d="M323.3 404.2 L320.3 403.5 L318.2 399.9 L319.1 397 L322 395.3 L325 396 L327.1 399.6 L326.2 402.5 Z" fill="#fff" stroke="#000" stroke-width="1.1" stroke-linecap="round" stroke-linejoin="round"/>
<path d="M323.3 404.2 L324.2 401.3 L322.1 397.7 L319.1 397 L318.2 399.9 L320.3 403.5 Z" fill="none" stroke="#000" stroke-width="1.1" stroke-linecap="round" stroke-linejoin="round"/>
<path d="M324.2 401.3 L327.1 399.6" fill="none" stroke="#000" stroke-width="0.99" stroke-linecap="round" stroke-linejoin="round"/>
<path d="M322.1 397.7 L325 396" fill="none" stroke="#000" stroke-width="0.99" stroke-linecap="round" stroke-linejoin="round"/>
<path d="M285.6 543.2 L294.5 538.1" fill="none" stroke="#000" stroke-width="1.1" stroke-linecap="round" stroke-linejoin="round"/>
<path d="M283.2 539.1 L292.1 533.9" fill="none" stroke="#000" stroke-width="1.1" stroke-linecap="round" stroke-linejoin="round"/>
<path d="M294.5 538.1 Q295.8 534.6 292.1 533.9" fill="none" stroke="#000" stroke-width="1.1" stroke-linecap="round" stroke-linejoin="round"/>
<path d="M294 538.4 L291.6 534.2" fill="none" stroke="#000" stroke-width="1.43" stroke-linecap="round" stroke-linejoin="round"/>
<path d="M292.4 539.3 L290 535.1" fill="none" stroke="#000" stroke-width="1.43" stroke-linecap="round" stroke-linejoin="round"/>
<path d="M282.2 548 L278.8 547.1 L276.4 543 L277.4 539.6 L280.5 537.8 L283.9 538.7 L286.3 542.8 L285.3 546.2 Z" fill="#fff" stroke="#000" stroke-width="1.1" stroke-linecap="round" stroke-linejoin="round"/>
<path d="M282.2 548 L283.2 544.6 L280.8 540.5 L277.4 539.6 L276.4 543 L278.8 547.1 Z" fill="none" stroke="#000" stroke-width="1.1" stroke-linecap="round" stroke-linejoin="round"/>
<path d="M283.2 544.6 L286.3 542.8" fill="none" stroke="#000" stroke-width="0.99" stroke-linecap="round" stroke-linejoin="round"/>
<path d="M280.8 540.5 L283.9 538.7" fill="none" stroke="#000" stroke-width="0.99" stroke-linecap="round" stroke-linejoin="round"/>
<ellipse cx="296.6" cy="534.4" rx="3" ry="4.2" transform="rotate(-30 296.6 534.4)" fill="#fff" stroke="#000" stroke-width="1.43"/>
<ellipse cx="296.7" cy="534.3" rx="1.6" ry="2.4" transform="rotate(-30 296.7 534.3)" fill="#000" stroke="#000" stroke-width="0.88"/>
<path d="M284 309.4 L508.5 309.6 C515 309.6 517.6 311.6 517.8 316 L517.8 321.5" fill="none" stroke="#000" stroke-width="3.3" stroke-linecap="round" stroke-linejoin="round"/>
<path d="M284 309.4 L508.5 309.6 C515 309.6 517.6 311.6 517.8 316 L517.8 321.5" fill="none" stroke="#fff" stroke-width="0.88" stroke-dasharray="1.8 2.4" stroke-linecap="butt" stroke-linejoin="round"/>
<ellipse cx="275.4" cy="309" rx="5" ry="8.2" transform="rotate(86 275.4 309)" fill="none" stroke="#000" stroke-width="2.53"/>
<path d="M516.2 321.5 C512.5 324 511.8 330.5 515 334 C518.5 337 523.5 334.5 523.4 329.5 C523.2 325.5 521.2 322.5 518.6 321.2" fill="none" stroke="#000" stroke-width="2.42" stroke-linecap="round" stroke-linejoin="round"/>
<path d="M517.2 326 C516 328.5 516.8 331.5 518.6 332" fill="none" stroke="#000" stroke-width="1.1" stroke-linecap="round" stroke-linejoin="round"/>
<ellipse cx="535" cy="319.2" rx="5" ry="7" transform="rotate(-30 535 319.2)" fill="none" stroke="#000" stroke-width="1.43"/>
<ellipse cx="535.4" cy="319" rx="1.9" ry="2.8" transform="rotate(-30 535.4 319)" fill="#000" stroke="#000" stroke-width="0.99"/>
<path d="M532 313 L532.6 312.5 L533.2 312.2 L533.9 312 L534.7 311.9 L535.5 312 L536.3 312.2 L537.1 312.6 L537.9 313.1 L538.6 313.7 L539.3 314.4 L540 315.1 L540.5 316 L541 316.9 L541.4 317.8 L541.6 318.8 L541.7 319.7 L541.8 320.7 L541.7 321.5 L541.5 322.3 L541.1 323.1 L540.7 323.7 L540.2 324.2 L539.6 324.6 L538.9 324.9" fill="none" stroke="#000" stroke-width="1.21" stroke-linecap="round" stroke-linejoin="round"/>
<path d="M525.6 325 L530 322.6" fill="none" stroke="#000" stroke-width="1.1" stroke-linecap="round" stroke-linejoin="round"/>
<path d="M540 315.8 L546 312.2" fill="none" stroke="#000" stroke-width="1.1" stroke-linecap="round" stroke-linejoin="round"/>
<path d="M558.2 303.8 L546.5 310.5" fill="none" stroke="#000" stroke-width="1.1" stroke-linecap="round" stroke-linejoin="round"/>
<path d="M560.5 307.7 L548.8 314.5" fill="none" stroke="#000" stroke-width="1.1" stroke-linecap="round" stroke-linejoin="round"/>
<path d="M546.5 310.5 Q545.2 313.9 548.8 314.5" fill="none" stroke="#000" stroke-width="1.1" stroke-linecap="round" stroke-linejoin="round"/>
<path d="M547 310.2 L549.3 314.2" fill="none" stroke="#000" stroke-width="1.43" stroke-linecap="round" stroke-linejoin="round"/>
<path d="M548.6 309.3 L550.9 313.3" fill="none" stroke="#000" stroke-width="1.43" stroke-linecap="round" stroke-linejoin="round"/>
<path d="M550.1 308.4 L552.4 312.4" fill="none" stroke="#000" stroke-width="1.43" stroke-linecap="round" stroke-linejoin="round"/>
<path d="M551.7 307.5 L554 311.5" fill="none" stroke="#000" stroke-width="1.43" stroke-linecap="round" stroke-linejoin="round"/>
<path d="M553.2 306.6 L555.5 310.6" fill="none" stroke="#000" stroke-width="1.43" stroke-linecap="round" stroke-linejoin="round"/>
<path d="M554.8 305.7 L557.1 309.7" fill="none" stroke="#000" stroke-width="1.43" stroke-linecap="round" stroke-linejoin="round"/>
<path d="M561.3 299.8 L564.2 300.5 L566.3 304.1 L565.5 307 L562.7 308.6 L559.8 307.9 L557.7 304.3 L558.5 301.4 Z" fill="#fff" stroke="#000" stroke-width="1.1" stroke-linecap="round" stroke-linejoin="round"/>
<path d="M561.3 299.8 L560.5 302.7 L562.6 306.3 L565.5 307 L566.3 304.1 L564.2 300.5 Z" fill="none" stroke="#000" stroke-width="1.1" stroke-linecap="round" stroke-linejoin="round"/>
<path d="M560.5 302.7 L557.7 304.3" fill="none" stroke="#000" stroke-width="0.99" stroke-linecap="round" stroke-linejoin="round"/>
<path d="M562.6 306.3 L559.8 307.9" fill="none" stroke="#000" stroke-width="0.99" stroke-linecap="round" stroke-linejoin="round"/>
<path d="M580.6 256.5 L584.6 254.6 L640.4 287 L640.4 317 L621.6 340.6 L608.5 332.6" fill="none" stroke="#000" stroke-width="1.43" stroke-linecap="round" stroke-linejoin="round"/>
<path d="M580.6 256.5 L582 279.8 L597 318" fill="none" stroke="#000" stroke-width="1.43" stroke-linecap="round" stroke-linejoin="round"/>
<path d="M580.6 256.5 L636.8 289 L636.8 319.4 L621.6 340.6" fill="none" stroke="#000" stroke-width="1.21" stroke-linecap="round" stroke-linejoin="round"/>
<path d="M636.8 289 L640.4 287" fill="none" stroke="#000" stroke-width="1.1" stroke-linecap="round" stroke-linejoin="round"/>
<ellipse cx="605.5" cy="320.6" rx="8.2" ry="10.6" transform="rotate(-30 605.5 320.6)" fill="#fff" stroke="#000" stroke-width="1.43"/>
<path d="M600.9 311.3 L601.9 310.5 L603 310 L604.1 309.7 L605.3 309.5 L606.6 309.6 L607.9 309.9 L609.2 310.4 L610.4 311.1 L611.6 312 L612.7 313 L613.7 314.2 L614.5 315.5 L615.2 316.9 L615.7 318.3 L616.1 319.8 L616.2 321.2 L616.2 322.6 L616 324 L615.6 325.3 L615.1 326.4 L614.4 327.4 L613.5 328.2 L612.5 328.9 L611.4 329.4" fill="none" stroke="#000" stroke-width="1.21" stroke-linecap="round" stroke-linejoin="round"/>
<ellipse cx="605.6" cy="320.6" rx="5" ry="6.8" transform="rotate(-30 605.6 320.6)" fill="none" stroke="#000" stroke-width="1.32"/>
<ellipse cx="605.8" cy="320.5" rx="2.4" ry="3.4" transform="rotate(-30 605.8 320.5)" fill="none" stroke="#000" stroke-width="1.1"/>
<path d="M580.4 328.3 L590.8 322.3 L591.4 322 L592.1 321.9 L592.8 321.9 L593.6 322.1 L594.4 322.4 L595.1 322.8 L595.9 323.4 L596.5 324 L597.2 324.8 L597.7 325.7 L598.2 326.5 L598.5 327.5 L598.8 328.4 L598.9 329.3 L598.9 330.2 L598.8 331 L598.5 331.8 L598.2 332.4 L597.7 332.9 L597.2 333.3 L586.8 339.3" fill="#fff" stroke="#000" stroke-width="1.76" stroke-linecap="round" stroke-linejoin="round"/>
<ellipse cx="583.6" cy="333.8" rx="4.3" ry="6.4" transform="rotate(-30 583.6 333.8)" fill="#fff" stroke="#000" stroke-width="1.76"/>
<ellipse cx="583.6" cy="333.8" rx="2.2" ry="3.6" transform="rotate(-30 583.6 333.8)" fill="none" stroke="#000" stroke-width="1.21"/>
<path d="M591.5 322 L592 321.9 L592.5 321.9 L593.1 321.9 L593.7 322.1 L594.2 322.3 L594.8 322.6 L595.4 323 L595.9 323.4 L596.4 323.9 L596.9 324.4 L597.3 325 L597.7 325.7 L598.1 326.3 L598.4 327 L598.6 327.7 L598.8 328.4 L598.9 329 L598.9 329.7 L598.9 330.4 L598.8 331 L598.6 331.5 L598.4 332 L598.1 332.5 L597.8 332.9" fill="none" stroke="#000" stroke-width="2.64" stroke-linecap="round" stroke-linejoin="round"/>
<path d="M580.4 328.3 L590.8 322.3" fill="none" stroke="#000" stroke-width="2.42" stroke-linecap="round" stroke-linejoin="round"/>
<path d="M597.6 325.8 L600.5 324.2" fill="none" stroke="#000" stroke-width="1.1" stroke-linecap="round" stroke-linejoin="round"/>
<path d="M643.5 291.3 L654.3 285 L654.9 284.8 L655.6 284.6 L656.4 284.7 L657.1 284.9 L657.9 285.2 L658.7 285.7 L659.4 286.2 L660.1 286.9 L660.8 287.7 L661.3 288.6 L661.8 289.5 L662.2 290.5 L662.4 291.4 L662.6 292.4 L662.6 293.3 L662.5 294.1 L662.3 294.9 L661.9 295.5 L661.5 296.1 L660.9 296.5 L650.1 302.7" fill="#fff" stroke="#000" stroke-width="1.65" stroke-linecap="round" stroke-linejoin="round"/>
<ellipse cx="646.8" cy="297" rx="4.3" ry="6.6" transform="rotate(-30 646.8 297)" fill="#fff" stroke="#000" stroke-width="1.65"/>
<ellipse cx="646.8" cy="297" rx="2.1" ry="3.6" transform="rotate(-30 646.8 297)" fill="none" stroke="#000" stroke-width="1.21"/>
<ellipse cx="646.8" cy="297" rx="4.3" ry="6.6" transform="rotate(-30 646.8 297)" fill="none" stroke="#000" stroke-width="2.42"/>
</g>
<g>
<ellipse cx="553.6" cy="626.6" rx="11.2" ry="17.6" transform="rotate(-30 553.6 626.6)" fill="#fff" stroke="#000" stroke-width="1.32"/>
<path d="M532.6 619.5 L542.2 613.6" fill="none" stroke="#000" stroke-width="2.64" stroke-linecap="round" stroke-linejoin="round"/>
<path d="M535.2 616.8 L544.9 611.1" fill="none" stroke="#000" stroke-width="2.64" stroke-linecap="round" stroke-linejoin="round"/>
<path d="M538.6 615.6 L548.5 610.1" fill="none" stroke="#000" stroke-width="2.64" stroke-linecap="round" stroke-linejoin="round"/>
<path d="M542.6 616 L552.5 610.8" fill="none" stroke="#000" stroke-width="2.64" stroke-linecap="round" stroke-linejoin="round"/>
<path d="M546.8 617.9 L556.7 613" fill="none" stroke="#000" stroke-width="2.64" stroke-linecap="round" stroke-linejoin="round"/>
<path d="M550.8 621.3 L560.6 616.5" fill="none" stroke="#000" stroke-width="2.64" stroke-linecap="round" stroke-linejoin="round"/>
<path d="M554.1 625.7 L563.8 621.1" fill="none" stroke="#000" stroke-width="2.64" stroke-linecap="round" stroke-linejoin="round"/>
<path d="M556.5 630.7 L566 626.1" fill="none" stroke="#000" stroke-width="2.64" stroke-linecap="round" stroke-linejoin="round"/>
<path d="M557.7 635.8 L567 631.2" fill="none" stroke="#000" stroke-width="2.64" stroke-linecap="round" stroke-linejoin="round"/>
<path d="M557.6 640.6 L566.7 635.9" fill="none" stroke="#000" stroke-width="2.64" stroke-linecap="round" stroke-linejoin="round"/>
<path d="M556.2 644.5 L565 639.6" fill="none" stroke="#000" stroke-width="2.64" stroke-linecap="round" stroke-linejoin="round"/>
<path d="M553.6 647.2 L562.3 642.1" fill="none" stroke="#000" stroke-width="2.64" stroke-linecap="round" stroke-linejoin="round"/>
<path d="M542.7 611.8 L543.3 611.6 L544.2 611.8 L545 612 L545.7 611.9 L546.1 611.5 L546.4 610.7 L546.7 610 L547.3 609.6 L548.1 609.8 L548.9 610.4 L549.7 611 L550.4 611.3 L551.1 611.2 L551.7 610.8 L552.3 610.5 L553.1 610.5 L553.8 611.1 L554.5 612 L555.2 612.9 L555.8 613.6 L556.5 613.9 L557.3 613.9 L558.2 614 L558.9 614.5 L559.5 615.3 L560 616.4 L560.3 617.4 L560.8 618.3 L561.4 618.9 L562.3 619.4 L563.1 619.9 L563.8 620.7 L564.1 621.7 L564.2 622.7 L564.2 623.7 L564.4 624.5 L564.9 625.4 L565.6 626.2 L566.3 627.1 L566.7 628 L566.8 628.9 L566.5 629.7 L566.1 630.4 L566 631.2 L566.2 632.1 L566.7 633.1 L567.1 634.2 L567.2 635.1 L566.9 635.8 L566.3 636.2 L565.7 636.5 L565.3 637 L565.2 637.8 L565.3 638.8 L565.4 639.8 L565.2 640.6 L564.6 640.9 L563.8 640.8 L563 640.7 L562.3 640.8 L562 641.3 L561.7 642.2 L561.4 643 L560.9 643.4" fill="none" stroke="#000" stroke-width="1.32" stroke-linecap="round" stroke-linejoin="round"/>
<path d="M535.2 616.2 L535.9 616.1 L536.8 616.4 L537.6 616.8 L538.2 616.9 L538.7 616.6 L539.1 615.9 L539.6 615.3 L540.2 615.1 L540.9 615.4 L541.7 616.2 L542.5 616.9 L543.1 617.3 L543.8 617.3 L544.4 617.1 L545.1 616.9 L545.9 617 L546.5 617.7 L547.1 618.6 L547.7 619.6 L548.2 620.3 L548.9 620.6 L549.7 620.8 L550.6 621 L551.3 621.5 L551.8 622.4 L552.1 623.4 L552.3 624.4 L552.7 625.2 L553.3 625.9 L554.1 626.4 L554.9 627 L555.5 627.8 L555.7 628.7 L555.7 629.7 L555.6 630.5 L555.7 631.4 L556.1 632.2 L556.8 633 L557.5 633.9 L557.8 634.8 L557.7 635.6 L557.4 636.3 L556.9 636.9 L556.8 637.6 L556.9 638.5 L557.4 639.5 L557.7 640.5 L557.8 641.4 L557.4 641.9 L556.8 642.2 L556.1 642.5 L555.7 642.9 L555.6 643.6 L555.7 644.6 L555.7 645.6 L555.5 646.3 L554.9 646.5 L554.1 646.4 L553.3 646.2 L552.6 646.3 L552.3 646.8 L552 647.6 L551.7 648.3 L551.2 648.7 L550.5 648.6 L549.7 648.1 L548.9 647.5 L548.2 647.2 L547.6 647.4 L547.1 647.8 L546.5 648.3 L545.8 648.3 L545.1 647.8 L544.4 646.9 L543.7 646.1 L543.1 645.5 L542.4 645.3 L541.7 645.4 L540.9 645.4 L540.1 645 L539.5 644.3 L539.1 643.2 L538.7 642.2 L538.2 641.5 L537.5 641 L536.7 640.6 L535.9 640.2 L535.2 639.5 L534.8 638.6 L534.7 637.6 L534.6 636.6 L534.4 635.8 L533.9 635.1 L533.1 634.3 L532.4 633.6 L531.9 632.7 L531.8 631.8 L532 631 L532.3 630.2 L532.3 629.5 L532 628.6 L531.4 627.7 L530.9 626.7 L530.7 625.8 L530.9 625.1 L531.4 624.5 L532 624.1 L532.3 623.6 L532.3 622.8 L532 621.8 L531.8 620.7 L531.9 619.9 L532.4 619.5 L533.1 619.4 L533.9 619.4 L534.4 619.1 L534.7 618.5 L534.7 617.6 L534.9 616.7 L535.2 616.2" fill="#fff" stroke="#000" stroke-width="1.43" stroke-linecap="round" stroke-linejoin="round"/>
<ellipse cx="543.8" cy="632.4" rx="6.4" ry="9.6" transform="rotate(-30 543.8 632.4)" fill="none" stroke="#000" stroke-width="1.32"/>
<path d="M536.5 622.5 L537.3 621.5 L538.2 620.7 L539.2 620.1 L540.3 619.7 L541.6 619.6 L542.9 619.6 L544.2 619.9 L545.6 620.5 L546.9 621.2 L548.3 622.1 L549.5 623.3 L550.7 624.5 L551.8 625.9 L552.7 627.5 L553.5 629.1 L554.2 630.7 L554.7 632.4 L555 634 L555.1 635.6 L555 637.2 L554.7 638.6 L554.3 639.9 L553.7 641 L552.9 641.9" fill="none" stroke="#000" stroke-width="0.99" stroke-linecap="round" stroke-linejoin="round"/>
<path d="M438.3 699.5 L445.3 695.7" fill="none" stroke="#000" stroke-width="1.54" stroke-linecap="round" stroke-linejoin="round"/>
<path d="M430.8 685.8 L437.8 682" fill="none" stroke="#000" stroke-width="1.54" stroke-linecap="round" stroke-linejoin="round"/>
<path d="M444.9 695.1 L497.6 666.2" fill="none" stroke="#000" stroke-width="1.54" stroke-linecap="round" stroke-linejoin="round"/>
<path d="M438.1 682.6 L490.7 653.8" fill="none" stroke="#000" stroke-width="1.54" stroke-linecap="round" stroke-linejoin="round"/>
<path d="M496.2 663.7 L539.1 640.2" fill="none" stroke="#000" stroke-width="1.54" stroke-linecap="round" stroke-linejoin="round"/>
<path d="M492.1 656.3 L535.1 632.8" fill="none" stroke="#000" stroke-width="1.54" stroke-linecap="round" stroke-linejoin="round"/>
<path d="M445.3 695.7 Q444.7 687.1 437.8 682" fill="none" stroke="#000" stroke-width="1.1" stroke-linecap="round" stroke-linejoin="round"/>
<path d="M444.9 695.1 Q444.7 687.1 438.1 682.6" fill="none" stroke="#000" stroke-width="1.1" stroke-linecap="round" stroke-linejoin="round"/>
<path d="M448.4 693.1 Q448.2 685.2 441.6 680.7" fill="none" stroke="#000" stroke-width="1.1" stroke-linecap="round" stroke-linejoin="round"/>
<path d="M459.8 686.9 Q459.6 678.9 453 674.4" fill="none" stroke="#000" stroke-width="1.1" stroke-linecap="round" stroke-linejoin="round"/>
<path d="M497.6 666.2 Q497.3 658.3 490.7 653.8" fill="none" stroke="#000" stroke-width="1.1" stroke-linecap="round" stroke-linejoin="round"/>
<path d="M496.2 663.7 Q497.3 658.3 492.1 656.3" fill="none" stroke="#000" stroke-width="1.1" stroke-linecap="round" stroke-linejoin="round"/>
<path d="M499.7 661.8 Q500.8 656.4 495.6 654.4" fill="none" stroke="#000" stroke-width="1.1" stroke-linecap="round" stroke-linejoin="round"/>
<path d="M517.2 652.2 Q518.4 646.8 513.2 644.8" fill="none" stroke="#000" stroke-width="1.1" stroke-linecap="round" stroke-linejoin="round"/>
<path d="M473.9 664.7 L488 657" fill="none" stroke="#000" stroke-width="2.86" stroke-linecap="round" stroke-linejoin="round"/>
<path d="M478.8 673.7 L492.9 666" fill="none" stroke="#000" stroke-width="2.2" stroke-linecap="round" stroke-linejoin="round"/>
<path d="M479.5 666.7 L483.1 664.7" fill="none" stroke="#000" stroke-width="1.1" stroke-linecap="round" stroke-linejoin="round"/>
<path d="M484.8 663.8 L488.3 661.8" fill="none" stroke="#000" stroke-width="1.1" stroke-linecap="round" stroke-linejoin="round"/>
<path d="M480.7 668.8 L484.2 666.8" fill="none" stroke="#000" stroke-width="1.1" stroke-linecap="round" stroke-linejoin="round"/>
<path d="M486 665.9 L489.5 664" fill="none" stroke="#000" stroke-width="1.1" stroke-linecap="round" stroke-linejoin="round"/>
<path d="M443.7 682.4 L453.4 677.1" fill="none" stroke="#000" stroke-width="3.3" stroke-linecap="round" stroke-linejoin="round"/>
<path d="M422.2 690.9 L427.8 687.7 L428.9 687.2 L430 687 L431.3 687.1 L432.6 687.4 L433.9 687.9 L435.2 688.7 L436.4 689.7 L437.6 690.9 L438.7 692.3 L439.7 693.8 L440.5 695.3 L441.1 696.9 L441.5 698.5 L441.8 700.1 L441.8 701.7 L441.6 703.1 L441.2 704.4 L440.7 705.5 L439.9 706.4 L439 707 L433.4 710.3" fill="#fff" stroke="#000" stroke-width="1.43" stroke-linecap="round" stroke-linejoin="round"/>
<ellipse cx="427.8" cy="700.6" rx="7.2" ry="11.2" transform="rotate(-30 427.8 700.6)" fill="#fff" stroke="#000" stroke-width="1.43"/>
<ellipse cx="427.8" cy="700.6" rx="4.8" ry="7.6" transform="rotate(-30 427.8 700.6)" fill="none" stroke="#000" stroke-width="1.1"/>
<path d="M432.7 709.9 L431.9 709.9 L431.1 709.7 L430.2 709.5 L429.4 709.1 L428.5 708.7 L427.7 708.1 L426.9 707.5 L426.1 706.7 L425.3 706 L424.6 705.1 L424 704.2 L423.4 703.2 L422.8 702.2 L422.4 701.2 L422 700.1 L421.7 699.1 L421.4 698 L421.3 697 L421.2 696 L421.2 695 L421.4 694.1 L421.6 693.2 L421.8 692.4 L422.2 691.7" fill="none" stroke="#000" stroke-width="0.99" stroke-linecap="round" stroke-linejoin="round"/>
<path d="M446 655.6 L454.6 652.6 C457 652 457.8 655.4 455.6 656.4 L447 659.6 C444.6 660.2 443.8 656.6 446 655.6 Z" fill="none" stroke="#000" stroke-width="1.32" stroke-linecap="round" stroke-linejoin="round"/>
<path d="M446.6 657.6 L455.2 654.4" fill="none" stroke="#000" stroke-width="0.88" stroke-linecap="round" stroke-linejoin="round"/>
<g transform="translate(0 1.6)">
<path d="M572.6 606.6 L580.4 602.8 C585.6 604 587.4 614.4 583.4 619.4 L575.6 623.6" fill="#fff" stroke="#000" stroke-width="1.32" stroke-linecap="round" stroke-linejoin="round"/>
<ellipse cx="574" cy="615" rx="6.4" ry="9.6" transform="rotate(-30 574 615)" fill="#fff" stroke="#000" stroke-width="1.43"/>
<ellipse cx="574.1" cy="615" rx="4.2" ry="6.6" transform="rotate(-30 574.1 615)" fill="none" stroke="#000" stroke-width="1.1"/>
<path d="M570.5 612 L574 619" fill="none" stroke="#000" stroke-width="0.88" stroke-linecap="round" stroke-linejoin="round"/>
</g>
<circle cx="599.5" cy="599.4" r="0.9" fill="#000" stroke="#000" stroke-width="0.22"/>
<path d="M385.2 669 L389.4 666.4 L417.6 683 L420.4 696 L420.4 708 L425.6 723.4 C426 731 422 738 414 741.6" fill="none" stroke="#000" stroke-width="1.32" stroke-linecap="round" stroke-linejoin="round"/>
<path d="M382.6 671.4 L385.6 668.6 L414.8 685.6 L417.4 698 L417.4 710 L422.6 725 C423 731 419.5 737.5 412 741 C405.5 744 400.5 742.5 396.6 738.2 L378.4 711.4 C377 706 377.6 700 379 696 L382 690 Z" fill="#fff" stroke="#000" stroke-width="1.54" stroke-linecap="round" stroke-linejoin="round"/>
<path d="M384.2 672.8 L413 689.6 L415.4 700" fill="none" stroke="#000" stroke-width="0.88" stroke-linecap="round" stroke-linejoin="round"/>
<path d="M414.8 685.6 L417.6 683" fill="none" stroke="#000" stroke-width="1.1" stroke-linecap="round" stroke-linejoin="round"/>
<path d="M418.6 686.5 L419.2 697.5 L419.2 709 L424.4 724 C424.6 729 423 733 420.5 736" fill="none" stroke="#000" stroke-width="2.64" stroke-linecap="round" stroke-linejoin="round"/>
<ellipse cx="397.4" cy="716" rx="7.6" ry="10.2" transform="rotate(-30 397.4 716)" fill="none" stroke="#000" stroke-width="1.43"/>
<ellipse cx="397.6" cy="716" rx="5.4" ry="7.6" transform="rotate(-30 397.6 716)" fill="none" stroke="#000" stroke-width="2.42"/>
<ellipse cx="398.2" cy="715.7" rx="3.2" ry="4.8" transform="rotate(-30 398.2 715.7)" fill="none" stroke="#000" stroke-width="0.99"/>
<ellipse cx="385.2" cy="675.4" rx="1.9" ry="2.6" transform="rotate(-30 385.2 675.4)" fill="none" stroke="#000" stroke-width="1.1"/>
<ellipse cx="411.2" cy="689.6" rx="1.9" ry="2.6" transform="rotate(-30 411.2 689.6)" fill="none" stroke="#000" stroke-width="1.1"/>
<ellipse cx="398.4" cy="691.6" rx="1.9" ry="2.6" transform="rotate(-30 398.4 691.6)" fill="none" stroke="#000" stroke-width="1.1"/>
<ellipse cx="379.6" cy="703.6" rx="1.9" ry="2.6" transform="rotate(-30 379.6 703.6)" fill="none" stroke="#000" stroke-width="1.1"/>
<ellipse cx="416.2" cy="725.4" rx="1.9" ry="2.6" transform="rotate(-30 416.2 725.4)" fill="none" stroke="#000" stroke-width="1.1"/>
<ellipse cx="398.4" cy="736.4" rx="1.9" ry="2.6" transform="rotate(-30 398.4 736.4)" fill="none" stroke="#000" stroke-width="1.1"/>
<circle cx="398.4" cy="691.6" r="1" fill="#000" stroke="#000" stroke-width="0.33"/>
<path d="M347 718 L353.6 715.4 L356.4 717.4 L356.2 721.4 L350 724 L347 721.6 Z" fill="none" stroke="#000" stroke-width="1.32" stroke-linecap="round" stroke-linejoin="round"/>
<path d="M350 724 L350.4 719.8 L347 718" fill="none" stroke="#000" stroke-width="0.99" stroke-linecap="round" stroke-linejoin="round"/>
<path d="M350.4 719.8 L356.4 717.4" fill="none" stroke="#000" stroke-width="0.99" stroke-linecap="round" stroke-linejoin="round"/>
<ellipse cx="375.8" cy="728.5" rx="6.2" ry="8.8" transform="rotate(-30 375.8 728.5)" fill="none" stroke="#000" stroke-width="1.43"/>
<ellipse cx="375.8" cy="751.2" rx="3.6" ry="5" transform="rotate(-30 375.8 751.2)" fill="none" stroke="#000" stroke-width="1.32"/>
<ellipse cx="376" cy="751.1" rx="1.6" ry="2.4" transform="rotate(-30 376 751.1)" fill="none" stroke="#000" stroke-width="0.99"/>
<path d="M373.8 746.7 L374.2 746.4 L374.7 746.2 L375.2 746.1 L375.7 746 L376.3 746.1 L376.9 746.2 L377.5 746.5 L378 746.8 L378.6 747.2 L379.1 747.7 L379.5 748.3 L379.9 748.9 L380.2 749.5 L380.5 750.2 L380.7 750.9 L380.8 751.6 L380.8 752.2 L380.7 752.9 L380.6 753.4 L380.3 754 L380 754.4 L379.6 754.8 L379.2 755.1 L378.7 755.3" fill="none" stroke="#000" stroke-width="1.1" stroke-linecap="round" stroke-linejoin="round"/>
<path d="M354.7 765.7 L369.2 757.3" fill="none" stroke="#000" stroke-width="1.1" stroke-linecap="round" stroke-linejoin="round"/>
<path d="M352.1 761.1 L366.6 752.8" fill="none" stroke="#000" stroke-width="1.1" stroke-linecap="round" stroke-linejoin="round"/>
<path d="M369.2 757.3 Q370.6 753.5 366.6 752.8" fill="none" stroke="#000" stroke-width="1.1" stroke-linecap="round" stroke-linejoin="round"/>
<path d="M368.7 757.6 L366.1 753.1" fill="none" stroke="#000" stroke-width="1.43" stroke-linecap="round" stroke-linejoin="round"/>
<path d="M367.1 758.5 L364.5 754" fill="none" stroke="#000" stroke-width="1.43" stroke-linecap="round" stroke-linejoin="round"/>
<path d="M365.6 759.4 L363 754.9" fill="none" stroke="#000" stroke-width="1.43" stroke-linecap="round" stroke-linejoin="round"/>
<path d="M364 760.3 L361.4 755.8" fill="none" stroke="#000" stroke-width="1.43" stroke-linecap="round" stroke-linejoin="round"/>
<path d="M362.5 761.2 L359.9 756.7" fill="none" stroke="#000" stroke-width="1.43" stroke-linecap="round" stroke-linejoin="round"/>
<path d="M351.1 770.5 L347.6 769.7 L345.1 765.3 L346.1 761.9 L349.4 760 L352.9 760.8 L355.4 765.2 L354.4 768.6 Z" fill="#fff" stroke="#000" stroke-width="1.1" stroke-linecap="round" stroke-linejoin="round"/>
<path d="M351.1 770.5 L352.1 767.1 L349.6 762.7 L346.1 761.9 L345.1 765.3 L347.6 769.7 Z" fill="none" stroke="#000" stroke-width="1.1" stroke-linecap="round" stroke-linejoin="round"/>
<path d="M352.1 767.1 L355.4 765.2" fill="none" stroke="#000" stroke-width="0.99" stroke-linecap="round" stroke-linejoin="round"/>
<path d="M349.6 762.7 L352.9 760.8" fill="none" stroke="#000" stroke-width="0.99" stroke-linecap="round" stroke-linejoin="round"/>
<path d="M564.8 743.4 L568.6 742.2 L584 753.8 L588.2 751.2 L593.6 764.6 L593 768.2 L584.6 773.6 L584 770.4 L564.8 756.8 Z" fill="none" stroke="#000" stroke-width="1.43" stroke-linecap="round" stroke-linejoin="round"/>
<path d="M566.4 744.6 L584 756.4 L586.8 754.8 L591.6 766.6 L584.6 771" fill="none" stroke="#000" stroke-width="0.99" stroke-linecap="round" stroke-linejoin="round"/>
<text class="n" x="0" y="0" font-size="8.6" letter-spacing="-0.4" text-anchor="start" font-weight="bold" transform="translate(567.4 757.2) skewY(30)">前方</text>
</g>
<g>
<ellipse cx="224.7" cy="565.3" rx="4.8" ry="6.4" transform="rotate(30 224.7 565.3)" fill="none" stroke="#000" stroke-width="1.43"/>
<ellipse cx="224.9" cy="565.4" rx="2" ry="3" transform="rotate(30 224.9 565.4)" fill="none" stroke="#000" stroke-width="1.1"/>
<path d="M221.4 571.9 L220.8 571.6 L220.2 571.3 L219.8 570.9 L219.4 570.4 L219 569.8 L218.8 569.2 L218.6 568.5 L218.6 567.7 L218.6 567 L218.7 566.2 L218.9 565.4 L219.2 564.6 L219.5 563.8 L219.9 563.1 L220.4 562.5 L221 561.8 L221.6 561.3 L222.2 560.9 L222.9 560.5 L223.6 560.2 L224.3 560 L224.9 560 L225.6 560 L226.2 560.1" fill="none" stroke="#000" stroke-width="1.1" stroke-linecap="round" stroke-linejoin="round"/>
<ellipse cx="236.3" cy="572.4" rx="4.8" ry="5.6" transform="rotate(30 236.3 572.4)" fill="#000" stroke="#000" stroke-width="1.54"/>
<circle cx="236.6" cy="572.2" r="1.2" fill="#fff" stroke="#000" stroke-width="0"/>
<path d="M246.8 567.4 L246.8 585.3" fill="none" stroke="#000" stroke-width="2.64" stroke-linecap="round" stroke-linejoin="round"/>
<circle cx="246.9" cy="567" r="1.6" fill="#000" stroke="#000" stroke-width="0.44"/>
<path d="M254.6 578.2 C257 574.6 262 573.6 266.4 576.2 L272.8 580.4 C276.6 583.4 277.2 590 275.4 595 C273.8 599.6 269.6 601.8 265.4 600 L257.6 595.6 C253.6 592.4 252.4 583 254.6 578.2 Z" fill="#fff" stroke="#000" stroke-width="1.54" stroke-linecap="round" stroke-linejoin="round"/>
<ellipse cx="268.6" cy="590.6" rx="7" ry="9.4" transform="rotate(30 268.6 590.6)" fill="#fff" stroke="#000" stroke-width="1.32"/>
<path d="M254.6 578.2 L257.8 576.8 L260.6 580.4 L259.8 591.6 L257.6 595.6" fill="none" stroke="#000" stroke-width="1.21" stroke-linecap="round" stroke-linejoin="round"/>
<path d="M257.8 576.8 L262.4 574.6 M260.6 580.4 L266.6 577.2 M259.8 591.6 L263.6 596.6" fill="none" stroke="#000" stroke-width="0.99" stroke-linecap="round" stroke-linejoin="round"/>
<path d="M255 583 L282.6 598" fill="none" stroke="#000" stroke-width="1.1" stroke-linecap="round" stroke-linejoin="round"/>
<ellipse cx="283.7" cy="600.2" rx="3.2" ry="4.4" transform="rotate(30 283.7 600.2)" fill="#fff" stroke="#000" stroke-width="1.43"/>
<ellipse cx="283.8" cy="600.3" rx="1.2" ry="1.9" transform="rotate(30 283.8 600.3)" fill="none" stroke="#000" stroke-width="0.99"/>
<path d="M305.6 609.9 L293.7 603.3" fill="none" stroke="#000" stroke-width="1.1" stroke-linecap="round" stroke-linejoin="round"/>
<path d="M302.9 614.8 L291 608.2" fill="none" stroke="#000" stroke-width="1.1" stroke-linecap="round" stroke-linejoin="round"/>
<path d="M293.7 603.3 Q289.4 604.1 291 608.2" fill="none" stroke="#000" stroke-width="1.1" stroke-linecap="round" stroke-linejoin="round"/>
<path d="M294.2 603.6 L291.5 608.5" fill="none" stroke="#000" stroke-width="1.43" stroke-linecap="round" stroke-linejoin="round"/>
<path d="M295.8 604.5 L293.1 609.4" fill="none" stroke="#000" stroke-width="1.43" stroke-linecap="round" stroke-linejoin="round"/>
<path d="M297.4 605.3 L294.7 610.2" fill="none" stroke="#000" stroke-width="1.43" stroke-linecap="round" stroke-linejoin="round"/>
<path d="M311.9 610.7 L313.1 614.3 L310.6 618.8 L306.9 619.7 L303.4 617.8 L302.2 614.2 L304.7 609.6 L308.4 608.7 Z" fill="#fff" stroke="#000" stroke-width="1.1" stroke-linecap="round" stroke-linejoin="round"/>
<path d="M311.9 610.7 L308.2 611.6 L305.7 616.1 L306.9 619.7 L310.6 618.8 L313.1 614.3 Z" fill="none" stroke="#000" stroke-width="1.1" stroke-linecap="round" stroke-linejoin="round"/>
<path d="M308.2 611.6 L304.7 609.6" fill="none" stroke="#000" stroke-width="0.99" stroke-linecap="round" stroke-linejoin="round"/>
<path d="M305.7 616.1 L302.2 614.2" fill="none" stroke="#000" stroke-width="0.99" stroke-linecap="round" stroke-linejoin="round"/>
</g>
<g>
<g transform="translate(1.8 1.4)">
<ellipse cx="498.6" cy="352.5" rx="19.6" ry="32.2" transform="rotate(-30 498.6 352.5)" fill="none" stroke="#000" stroke-width="1.32"/>
<ellipse cx="497.1" cy="353.3" rx="19.6" ry="32.2" transform="rotate(-30 497.1 353.3)" fill="#fff" stroke="#000" stroke-width="1.43"/>
<path d="M504.8 380.9 L502.8 380.7 L500.8 380.3 L498.6 379.5 L496.5 378.5 L494.3 377.3 L492.2 375.8 L490.1 374 L488 372.1 L486.1 370 L484.3 367.7 L482.5 365.3 L481 362.7 L479.5 360.1 L478.3 357.4 L477.2 354.6 L476.4 351.9 L475.7 349.1 L475.3 346.5 L475 343.9 L475 341.4 L475.2 339 L475.6 336.8 L476.3 334.7 L477.1 332.9" fill="none" stroke="#000" stroke-width="0.88" stroke-linecap="round" stroke-linejoin="round"/>
<path d="M453.8 349.4 L484.9 332.1 L503 335.8 L515.2 357 L509.4 374.5 L478.2 391.8" fill="#fff" stroke="#000" stroke-width="0.11" stroke-linecap="round" stroke-linejoin="round"/>
<path d="M453.8 349.4 L482.4 333.5" fill="none" stroke="#000" stroke-width="1.43" stroke-linecap="round" stroke-linejoin="round"/>
<path d="M478.2 391.8 L506.9 375.9" fill="none" stroke="#000" stroke-width="1.43" stroke-linecap="round" stroke-linejoin="round"/>
<path d="M485.5 331 L487.4 330.8 L489.5 331 L491.6 331.5 L493.7 332.2 L495.8 333.2 L498 334.4 L500 336 L502 337.7 L504 339.6 L505.8 341.7 L507.4 344 L508.9 346.4 L510.3 348.9 L511.4 351.5 L512.3 354.1 L513 356.7 L513.5 359.3 L513.8 361.9 L513.8 364.3 L513.6 366.7 L513.2 368.9 L512.5 370.9 L511.7 372.8 L510.6 374.4" fill="none" stroke="#000" stroke-width="1.1" stroke-linecap="round" stroke-linejoin="round"/>
<path d="M496.4 339.5 L497.1 340.1 L497.9 340.8 L498.6 341.5 L499.3 342.2 L500 343 L500.7 343.8 L501.4 344.6 L502 345.4 L502.6 346.3 L503.2 347.2 L503.8 348.1 L504.4 349 L504.9 349.9 L505.4 350.9 L505.8 351.8 L506.3 352.8 L506.7 353.8 L507.1 354.8 L507.4 355.8 L507.7 356.7 L508 357.7 L508.2 358.7 L508.4 359.7 L508.6 360.7" fill="none" stroke="#000" stroke-width="0.88" stroke-linecap="round" stroke-linejoin="round"/>
</g>
<ellipse cx="463.4" cy="374.6" rx="28.8" ry="42" transform="rotate(-30 463.4 374.6)" fill="#fff" stroke="#000" stroke-width="1.43"/>
<ellipse cx="457" cy="378.2" rx="28.8" ry="42" transform="rotate(-30 457 378.2)" fill="#fff" stroke="#000" stroke-width="1.54"/>
<ellipse cx="459.2" cy="377.8" rx="21.6" ry="31" transform="rotate(-30 459.2 377.8)" fill="none" stroke="#000" stroke-width="1.43"/>
<path d="M442.5 354.6 L444.7 352.8 L447.3 351.6 L450.1 350.9 L453.1 350.9 L456.3 351.4 L459.5 352.6 L462.8 354.2 L465.9 356.4 L468.8 359.1 L471.6 362.2 L474 365.6 L476 369.2 L477.7 373 L478.9 376.9 L479.7 380.8 L480 384.6 L479.8 388.2 L479.1 391.5 L477.9 394.5 L476.3 397 L474.2 399.1 L471.8 400.6 L469.1 401.6 L466.2 402" fill="none" stroke="#000" stroke-width="1.1" stroke-linecap="round" stroke-linejoin="round"/>
<path d="M448.9 355.7 L450.8 354.8 L453 354.3 L455.2 354.3 L457.6 354.6 L460 355.3 L462.5 356.5 L464.9 358 L467.2 359.8 L469.3 361.9 L471.3 364.3 L473.1 366.9 L474.7 369.7 L476 372.5 L477 375.5 L477.6 378.4 L478 381.3 L478 384.1 L477.6 386.7 L477 389.1 L476 391.3 L474.7 393.1 L473.2 394.6 L471.4 395.8 L469.4 396.6" fill="none" stroke="#000" stroke-width="1.1" stroke-linecap="round" stroke-linejoin="round"/>
<path d="M471.2 405.2 L469.2 405.9 L467 406.3 L464.7 406.3 L462.4 406.1 L460 405.6 L457.6 404.7 L455.2 403.6 L452.8 402.2 L450.5 400.5 L448.2 398.6 L446.1 396.5 L444.1 394.2 L442.3 391.7 L440.6 389.1 L439.1 386.3 L437.9 383.5 L436.8 380.6 L436 377.7 L435.5 374.8 L435.2 372 L435.1 369.2 L435.3 366.5 L435.7 364 L436.4 361.7" fill="none" stroke="#000" stroke-width="2.2" stroke-linecap="round" stroke-linejoin="round"/>
<ellipse cx="463.4" cy="373.9" rx="10" ry="14.8" transform="rotate(-30 463.4 373.9)" fill="none" stroke="#000" stroke-width="1.76"/>
<path d="M456.9 365.2 L457.6 364.4 L458.3 363.7 L459.1 363.2 L460.1 362.8 L461.1 362.7 L462.2 362.7 L463.3 362.9 L464.4 363.2 L465.6 363.8 L466.7 364.5 L467.8 365.3 L468.8 366.3 L469.8 367.4 L470.7 368.6 L471.4 369.9 L472.1 371.3 L472.6 372.7 L473 374.1 L473.2 375.4 L473.3 376.8 L473.3 378.1 L473.1 379.3 L472.7 380.4 L472.3 381.4" fill="none" stroke="#000" stroke-width="0.88" stroke-linecap="round" stroke-linejoin="round"/>
<ellipse cx="464.8" cy="372.6" rx="2.6" ry="4.2" transform="rotate(-30 464.8 372.6)" fill="none" stroke="#000" stroke-width="1.1"/>
<path d="M463.4 370 L466.4 375.2" fill="none" stroke="#000" stroke-width="0.77" stroke-linecap="round" stroke-linejoin="round"/>
<ellipse cx="448.1" cy="343.9" rx="1.3" ry="1.9" transform="rotate(-30 448.1 343.9)" fill="#000" stroke="#000" stroke-width="0.55"/>
<ellipse cx="481.3" cy="368.1" rx="1.3" ry="1.9" transform="rotate(-30 481.3 368.1)" fill="#000" stroke="#000" stroke-width="0.55"/>
<ellipse cx="486" cy="394.1" rx="1.3" ry="1.9" transform="rotate(-30 486 394.1)" fill="#000" stroke="#000" stroke-width="0.55"/>
<ellipse cx="460.2" cy="411.2" rx="1.3" ry="1.9" transform="rotate(-30 460.2 411.2)" fill="#000" stroke="#000" stroke-width="0.55"/>
<ellipse cx="431.8" cy="382.1" rx="1.3" ry="1.9" transform="rotate(-30 431.8 382.1)" fill="#000" stroke="#000" stroke-width="0.55"/>
<path d="M443.4 355.6 L449.4 362.6 L443 363.4 Z" fill="#fff" stroke="#000" stroke-width="1.21" stroke-linecap="round" stroke-linejoin="round"/>
<path d="M405.3 367.8 L421 377 L447.6 363" fill="none" stroke="#000" stroke-width="1.21" stroke-linecap="round" stroke-linejoin="round"/>
<path d="M442 384.8 L453.8 379" fill="none" stroke="#000" stroke-width="1.1" stroke-linecap="round" stroke-linejoin="round"/>
</g>
<g>
<path d="M428.6 388.2 L437.6 385.4 C441.6 386 442.6 392.6 439.6 396 L431.4 399.2" fill="#fff" stroke="#000" stroke-width="1.32" stroke-linecap="round" stroke-linejoin="round"/>
<ellipse cx="430" cy="393.7" rx="3.6" ry="5.6" transform="rotate(-30 430 393.7)" fill="#fff" stroke="#000" stroke-width="1.43"/>
<ellipse cx="430" cy="393.7" rx="1.9" ry="3.2" transform="rotate(-30 430 393.7)" fill="none" stroke="#000" stroke-width="1.1"/>
</g>
<g>
<ellipse cx="413.2" cy="403.4" rx="17.4" ry="27.6" transform="rotate(-30 413.2 403.4)" fill="none" stroke="#000" stroke-width="1.21"/>
<ellipse cx="411.4" cy="404.4" rx="17.4" ry="27.6" transform="rotate(-30 411.4 404.4)" fill="#fff" stroke="#000" stroke-width="1.43"/>
<ellipse cx="411.8" cy="404.2" rx="9.8" ry="16" transform="rotate(-30 411.8 404.2)" fill="none" stroke="#000" stroke-width="1.32"/>
<path d="M402.5 394.7 L403 393.3 L403.8 392 L404.9 391.1 L406.1 390.5 L407.5 390.2 L409 390.3 L410.7 390.7 L412.3 391.4 L414 392.5 L415.6 393.8 L417.2 395.4 L418.6 397.2 L419.9 399.2 L421 401.3 L421.9 403.5 L422.6 405.6 L423 407.7 L423.1 409.7 L423 411.6 L422.6 413.2 L421.9 414.6 L421 415.8 L419.9 416.6 L418.6 417.1" fill="none" stroke="#000" stroke-width="0.99" stroke-linecap="round" stroke-linejoin="round"/>
<circle cx="401.6" cy="385" r="1.7" fill="#000" stroke="#000" stroke-width="0.33"/>
<circle cx="413.4" cy="387.1" r="1.7" fill="#000" stroke="#000" stroke-width="0.33"/>
<circle cx="424.1" cy="399.3" r="1.7" fill="#000" stroke="#000" stroke-width="0.33"/>
<circle cx="427.3" cy="414.5" r="1.7" fill="#000" stroke="#000" stroke-width="0.33"/>
<circle cx="421.2" cy="423.8" r="1.7" fill="#000" stroke="#000" stroke-width="0.33"/>
<circle cx="409.4" cy="421.7" r="1.7" fill="#000" stroke="#000" stroke-width="0.33"/>
<circle cx="398.7" cy="409.5" r="1.7" fill="#000" stroke="#000" stroke-width="0.33"/>
<circle cx="395.5" cy="394.3" r="1.7" fill="#000" stroke="#000" stroke-width="0.33"/>
</g>
<g>
<ellipse cx="391.4" cy="416.5" rx="17.4" ry="27.6" transform="rotate(-30 391.4 416.5)" fill="none" stroke="#000" stroke-width="1.21"/>
<ellipse cx="390" cy="417.3" rx="17.4" ry="27.6" transform="rotate(-30 390 417.3)" fill="#fff" stroke="#000" stroke-width="1.43"/>
<circle cx="380.7" cy="396.3" r="1.6" fill="#000" stroke="#000" stroke-width="0.33"/>
<circle cx="393.6" cy="399.9" r="1.6" fill="#000" stroke="#000" stroke-width="0.33"/>
<circle cx="404.3" cy="413.7" r="1.6" fill="#000" stroke="#000" stroke-width="0.33"/>
<circle cx="406.7" cy="429.6" r="1.6" fill="#000" stroke="#000" stroke-width="0.33"/>
<circle cx="399.3" cy="438.3" r="1.6" fill="#000" stroke="#000" stroke-width="0.33"/>
<circle cx="386.4" cy="434.7" r="1.6" fill="#000" stroke="#000" stroke-width="0.33"/>
<circle cx="375.7" cy="420.9" r="1.6" fill="#000" stroke="#000" stroke-width="0.33"/>
<circle cx="373.3" cy="405" r="1.6" fill="#000" stroke="#000" stroke-width="0.33"/>
<path d="M377.5 414.5 C377 408 381 405 384.6 406.6 L391.6 410.6 C396 414 396.6 422 394.4 427.6 C392.6 431.6 388.6 433 384.6 431 L379.4 428.2" fill="#fff" stroke="#000" stroke-width="1.32" stroke-linecap="round" stroke-linejoin="round"/>
<ellipse cx="380.4" cy="421.6" rx="5.2" ry="9.2" transform="rotate(-30 380.4 421.6)" fill="#fff" stroke="#000" stroke-width="1.43"/>
<ellipse cx="380.4" cy="421.6" rx="3.8" ry="7.2" transform="rotate(-30 380.4 421.6)" fill="#000" stroke="#000" stroke-width="1.1"/>
<path d="M376.4 418 l2 -1.1 M377.4 421.2 l2.2 -1.2 M378.8 424.4 l2.2 -1.2 M380.4 427 l1.8 -1" fill="none" stroke="#fff" stroke-width="0.99" stroke-linecap="round" stroke-linejoin="round"/>
<path d="M383.8 406.5 L384.5 406.1 L385.3 405.9 L386.1 405.9 L387 405.9 L388 406.1 L388.9 406.5 L389.9 406.9 L390.9 407.5 L391.9 408.2 L392.8 409 L393.7 409.9 L394.6 410.9 L395.4 412 L396.1 413.1 L396.8 414.3 L397.4 415.5 L397.9 416.8 L398.3 418 L398.6 419.3 L398.8 420.5 L398.9 421.7 L398.9 422.8 L398.8 423.8 L398.6 424.8" fill="none" stroke="#000" stroke-width="0.99" stroke-linecap="round" stroke-linejoin="round"/>
</g>
<g>
<ellipse cx="363.7" cy="431.9" rx="17.4" ry="27.6" transform="rotate(-30 363.7 431.9)" fill="none" stroke="#000" stroke-width="1.21"/>
<ellipse cx="361.7" cy="433" rx="17.4" ry="27.6" transform="rotate(-30 361.7 433)" fill="#fff" stroke="#000" stroke-width="1.43"/>
<ellipse cx="362.1" cy="432.8" rx="9" ry="15.2" transform="rotate(-30 362.1 432.8)" fill="none" stroke="#000" stroke-width="1.32"/>
<path d="M353.5 423.8 L354 422.4 L354.7 421.2 L355.6 420.4 L356.7 419.8 L358 419.6 L359.4 419.7 L360.9 420.1 L362.4 420.8 L364 421.8 L365.5 423.1 L367 424.6 L368.3 426.4 L369.6 428.2 L370.6 430.2 L371.4 432.2 L372.1 434.3 L372.5 436.2 L372.6 438.1 L372.5 439.8 L372.2 441.4 L371.6 442.7 L370.8 443.7 L369.8 444.5 L368.6 444.9" fill="none" stroke="#000" stroke-width="0.99" stroke-linecap="round" stroke-linejoin="round"/>
<circle cx="355.6" cy="413.3" r="1.7" fill="#000" stroke="#000" stroke-width="0.33"/>
<circle cx="367.5" cy="419.2" r="1.7" fill="#000" stroke="#000" stroke-width="0.33"/>
<circle cx="376.1" cy="433.1" r="1.7" fill="#000" stroke="#000" stroke-width="0.33"/>
<circle cx="376.2" cy="447" r="1.7" fill="#000" stroke="#000" stroke-width="0.33"/>
<circle cx="367.8" cy="452.7" r="1.7" fill="#000" stroke="#000" stroke-width="0.33"/>
<circle cx="355.9" cy="446.8" r="1.7" fill="#000" stroke="#000" stroke-width="0.33"/>
<circle cx="347.3" cy="432.9" r="1.7" fill="#000" stroke="#000" stroke-width="0.33"/>
<circle cx="347.2" cy="419" r="1.7" fill="#000" stroke="#000" stroke-width="0.33"/>
</g>
<g>
<ellipse cx="339.6" cy="445.6" rx="21.4" ry="31.4" transform="rotate(-30 339.6 445.6)" fill="#fff" stroke="#000" stroke-width="1.32"/>
<ellipse cx="336" cy="447.5" rx="21.4" ry="31.4" transform="rotate(-30 336 447.5)" fill="#fff" stroke="#000" stroke-width="1.54"/>
<ellipse cx="337" cy="447" rx="16.6" ry="25.5" transform="rotate(-30 337 447)" fill="none" stroke="#000" stroke-width="1.21"/>
<ellipse cx="337.4" cy="446.8" rx="13.4" ry="21.5" transform="rotate(-30 337.4 446.8)" fill="none" stroke="#000" stroke-width="1.32"/>
<path d="M324.6 434.3 L325.5 432.2 L326.7 430.5 L328.3 429.2 L330.1 428.4 L332.2 428 L334.4 428.2 L336.8 428.9 L339.2 430.1 L341.5 431.7 L343.8 433.7 L346 436.1 L347.9 438.7 L349.6 441.6 L350.9 444.6 L351.9 447.6 L352.5 450.6 L352.8 453.5 L352.6 456.2 L352 458.5 L351.1 460.6 L349.8 462.2 L348.1 463.4 L346.3 464.1 L344.1 464.4" fill="none" stroke="#000" stroke-width="0.99" stroke-linecap="round" stroke-linejoin="round"/>
<ellipse cx="337.2" cy="447.4" rx="8.6" ry="14.5" transform="rotate(-30 337.2 447.4)" fill="none" stroke="#000" stroke-width="1.21"/>
<path d="M344.5 457 L343.7 458.1 L342.8 458.9 L341.7 459.3 L340.4 459.5 L339 459.3 L337.6 458.8 L336.1 458.1 L334.7 457 L333.2 455.7 L331.9 454.2 L330.7 452.5 L329.6 450.6 L328.8 448.7 L328.1 446.8 L327.7 444.9 L327.5 443.1 L327.6 441.5 L327.9 440 L328.5 438.7 L329.3 437.7 L330.2 437 L331.4 436.6 L332.7 436.5 L334.1 436.8" fill="none" stroke="#000" stroke-width="0.99" stroke-linecap="round" stroke-linejoin="round"/>
<path d="M331 440 L336 448 M337 455 L343 452" fill="none" stroke="#000" stroke-width="0.88" stroke-linecap="round" stroke-linejoin="round"/>
</g>
<g>
<path d="M314.4 439.8 l2.8 -4.2 l5.5 0.5 l2 4.8 l-3 4.5 l-5.2 -0.8 Z" fill="#000" stroke="#000" stroke-width="1.32" stroke-linecap="round" stroke-linejoin="round"/>
<path d="M306.2 453.6 l2.9 -4.4 l5.7 0.5 l2.1 4.9 l-3.1 4.7 l-5.5 -0.8 Z" fill="#000" stroke="#000" stroke-width="1.32" stroke-linecap="round" stroke-linejoin="round"/>
<path d="M321.4 473.4 l2.8 -4.2 l5.5 0.5 l2 4.8 l-3 4.5 l-5.2 -0.8 Z" fill="#000" stroke="#000" stroke-width="1.32" stroke-linecap="round" stroke-linejoin="round"/>
<circle cx="311.2" cy="454.8" r="1.4" fill="#fff" stroke="#000" stroke-width="0"/>
</g>
<g>
<ellipse cx="290.4" cy="474" rx="27.2" ry="41.2" transform="rotate(-30 290.4 474)" fill="none" stroke="#000" stroke-width="1.43"/>
<ellipse cx="288.8" cy="474.9" rx="27.2" ry="41.2" transform="rotate(-30 288.8 474.9)" fill="#fff" stroke="#000" stroke-width="1.54"/>
<ellipse cx="290" cy="474.3" rx="16.2" ry="26" transform="rotate(-30 290 474.3)" fill="none" stroke="#000" stroke-width="1.43"/>
<path d="M304.3 496.2 L302.3 497.8 L299.9 498.9 L297.3 499.4 L294.4 499.3 L291.4 498.6 L288.4 497.4 L285.4 495.6 L282.4 493.3 L279.6 490.5 L277 487.4 L274.8 484 L272.8 480.3 L271.3 476.6 L270.2 472.8 L269.5 469 L269.3 465.4 L269.6 462.1 L270.3 459 L271.5 456.4 L273.1 454.2 L275.1 452.5 L277.5 451.4 L280.1 450.8 L282.9 450.9" fill="none" stroke="#000" stroke-width="3.08" stroke-linecap="round" stroke-linejoin="round"/>
<path d="M274.1 458.9 L275.1 456.4 L276.5 454.3 L278.3 452.6 L280.5 451.6 L282.9 451.1 L285.5 451.1 L288.3 451.8 L291.2 453 L294 454.7 L296.8 456.9 L299.4 459.5 L301.9 462.5 L304 465.8 L305.8 469.3 L307.3 472.9 L308.3 476.5 L308.9 480 L309.1 483.4 L308.8 486.5 L308 489.3 L306.8 491.7 L305.3 493.6 L303.3 495 L301.1 495.9" fill="none" stroke="#000" stroke-width="0.99" stroke-linecap="round" stroke-linejoin="round"/>
<ellipse cx="262" cy="459.5" rx="1.4" ry="1.9" transform="rotate(-30 262 459.5)" fill="none" stroke="#000" stroke-width="0.99"/>
<ellipse cx="287.4" cy="446.8" rx="1.4" ry="1.9" transform="rotate(-30 287.4 446.8)" fill="none" stroke="#000" stroke-width="0.99"/>
<ellipse cx="313" cy="489" rx="1.4" ry="1.9" transform="rotate(-30 313 489)" fill="none" stroke="#000" stroke-width="0.99"/>
<ellipse cx="287.4" cy="504.7" rx="1.4" ry="1.9" transform="rotate(-30 287.4 504.7)" fill="none" stroke="#000" stroke-width="0.99"/>
<path d="M267.4 488 L281 480.5" fill="none" stroke="#000" stroke-width="1.21" stroke-linecap="round" stroke-linejoin="round"/>
<path d="M286.2 505 L277.4 510 L306.3 528.4 L299 532.6" fill="none" stroke="#000" stroke-width="1.32" stroke-linecap="round" stroke-linejoin="round"/>
</g>
<g>
<ellipse cx="244.6" cy="502" rx="22" ry="28.6" transform="rotate(-30 244.6 502)" fill="#fff" stroke="#fff" stroke-width="0.11"/>
<path d="M264.8 522.2 L263.8 523 L262.6 523.4 L261.4 523.6 L260.4 524.1 L259.7 525.1 L259.2 526.3 L258.6 527.5 L257.7 528.3 L256.5 528.5 L255.2 528.2 L253.9 527.9 L252.7 527.9 L251.7 528.3 L250.7 529.1 L249.7 529.8 L248.5 530.1 L247.2 529.7 L245.9 528.9 L244.7 528 L243.5 527.4 L242.4 527.3 L241.1 527.5 L239.8 527.6 L238.5 527.3 L237.4 526.4 L236.4 525.1 L235.5 523.8 L234.5 522.8 L233.4 522.2 L232 521.8 L230.7 521.3 L229.5 520.4 L228.7 519.1 L228.2 517.6 L227.7 516.1 L227.1 514.8 L226.1 513.8 L224.9 512.8 L223.8 511.8 L222.9 510.6 L222.5 509.1 L222.5 507.6 L222.6 506.2 L222.4 504.8 L221.9 503.5 L221 502.2 L220.2 500.8 L219.8 499.3 L219.9 498 L220.4 496.7 L221 495.6 L221.4 494.4 L221.2 493 L220.9 491.5 L220.5 490 L220.6 488.6 L221.3 487.5 L222.2 486.7 L223.3 486 L224 485.2 L224.4 484 L224.5 482.6 L224.8 481.2 L225.3 480.1 L226.4 479.4 L227.6 479.3 L228.9 479.2 L230 478.8 L230.8 478 L231.4 476.9 L232.2 475.8 L233.1 475.1" fill="none" stroke="#000" stroke-width="1.54" stroke-linecap="round" stroke-linejoin="round"/>
<path d="M228.7 478.9 L231.1 476.8 L233.9 475.2 L237 474.2 L240.2 473.7 L243.6 473.8 L247.1 474.5 L250.5 475.7 L253.9 477.5 L257.1 479.8 L260.1 482.5 L262.8 485.5 L265.1 488.9 L267.1 492.6 L268.7 496.4 L269.7 500.4 L270.3 504.3 L270.4 508.1 L270 511.8 L269.1 515.3 L267.7 518.5 L265.8 521.3 L263.6 523.6 L261 525.5 L258.1 526.9" fill="none" stroke="#000" stroke-width="4.84" stroke-linecap="round" stroke-linejoin="round"/>
<path d="M229.3 478.1 L231.8 476.1 L234.6 474.7 L237.7 473.8 L240.9 473.4 L244.3 473.6 L247.7 474.3 L251.1 475.6 L254.4 477.4 L257.6 479.6 L260.5 482.3 L263.2 485.4 L265.5 488.7 L267.5 492.3 L269 496.1 L270.1 500 L270.7 503.9 L270.8 507.7 L270.4 511.4 L269.6 514.8 L268.3 518 L266.6 520.8 L264.4 523.2 L261.9 525.2 L259.1 526.7" fill="none" stroke="#fff" stroke-dasharray="1.2 2.2" stroke-width="2.2" stroke-linecap="butt" stroke-linejoin="round"/>
<path d="M227.8 479.4 L230.3 477.9 L233 476.8 L235.9 476.2 L238.9 476.1 L242 476.5 L245.1 477.3 L248.2 478.6 L251.2 480.3 L254.1 482.5 L256.7 485 L259.2 487.8 L261.3 490.9 L263.1 494.1 L264.6 497.6 L265.7 501.1 L266.4 504.7 L266.6 508.2 L266.5 511.6 L265.9 514.9 L264.9 517.9 L263.6 520.7 L261.8 523.1 L259.8 525.2 L257.4 526.8" fill="none" stroke="#000" stroke-width="1.1" stroke-linecap="round" stroke-linejoin="round"/>
<ellipse cx="242.6" cy="502.4" rx="15.2" ry="20.5" transform="rotate(-30 242.6 502.4)" fill="none" stroke="#000" stroke-width="1.32"/>
<path d="M231.1 489.2 L232.5 487.6 L234.2 486.2 L236.1 485.3 L238.2 484.8 L240.4 484.7 L242.7 485.1 L245 485.9 L247.3 487.1 L249.5 488.7 L251.6 490.6 L253.4 492.8 L255 495.2 L256.3 497.8 L257.3 500.5 L257.9 503.2 L258.2 505.9 L258.1 508.5 L257.6 510.9 L256.8 513.1 L255.6 515 L254.1 516.6 L252.4 517.7 L250.4 518.5 L248.2 518.9" fill="none" stroke="#000" stroke-width="1.1" stroke-linecap="round" stroke-linejoin="round"/>
<path d="M251.4 515.7 L250 516.7 L248.4 517.5 L246.7 517.9 L244.9 518 L243 517.7 L241 517.1 L239.1 516.1 L237.2 514.9 L235.5 513.3 L233.9 511.6 L232.5 509.6 L231.3 507.5 L230.3 505.2 L229.6 503 L229.2 500.7 L229.1 498.5 L229.3 496.3 L229.7 494.4 L230.5 492.6 L231.5 491.1 L232.8 489.8 L234.2 488.9 L235.9 488.3 L237.7 488" fill="none" stroke="#000" stroke-width="0.99" stroke-linecap="round" stroke-linejoin="round"/>
<ellipse cx="245.6" cy="500.2" rx="5.6" ry="9.6" transform="rotate(-30 245.6 500.2)" fill="none" stroke="#000" stroke-width="1.32"/>
<path d="M241.7 494.2 L242.1 493.6 L242.5 493.1 L243.1 492.9 L243.8 492.7 L244.5 492.8 L245.3 493 L246.1 493.3 L246.9 493.8 L247.7 494.5 L248.5 495.3 L249.2 496.2 L249.9 497.1 L250.5 498.1 L251 499.2 L251.4 500.3 L251.7 501.4 L251.9 502.4 L251.9 503.4 L251.9 504.2 L251.7 505 L251.4 505.7 L250.9 506.2 L250.4 506.6 L249.8 506.8" fill="none" stroke="#000" stroke-width="0.99" stroke-linecap="round" stroke-linejoin="round"/>
<ellipse cx="228.6" cy="510.8" rx="8.2" ry="10.4" transform="rotate(-30 228.6 510.8)" fill="#fff" stroke="#000" stroke-width="1.43"/>
<path d="M224 501.6 L225 500.9 L226.1 500.4 L227.2 500 L228.4 499.9 L229.7 500 L231 500.3 L232.2 500.7 L233.5 501.4 L234.6 502.3 L235.7 503.3 L236.7 504.4 L237.5 505.7 L238.2 507 L238.7 508.5 L239 509.9 L239.2 511.3 L239.2 512.7 L238.9 514.1 L238.6 515.3 L238 516.4 L237.3 517.4 L236.4 518.3 L235.4 518.9 L234.3 519.4" fill="none" stroke="#000" stroke-width="1.32" stroke-linecap="round" stroke-linejoin="round"/>
<path d="M234.5 503.5 L239 506 M236.8 517 L239.6 518.8" fill="none" stroke="#000" stroke-width="1.1" stroke-linecap="round" stroke-linejoin="round"/>
<ellipse cx="228.2" cy="511" rx="4.4" ry="6" transform="rotate(-30 228.2 511)" fill="none" stroke="#000" stroke-width="1.32"/>
<ellipse cx="228.6" cy="510.8" rx="2.2" ry="3.4" transform="rotate(-30 228.6 510.8)" fill="#000" stroke="#000" stroke-width="1.1"/>
<path d="M205 524.4 L226.5 512" fill="none" stroke="#000" stroke-width="1.21" stroke-linecap="round" stroke-linejoin="round"/>
</g>
<g>
<path d="M283 404.7 L283 445.5" fill="none" stroke="#000" stroke-width="1.32" stroke-linecap="round" stroke-linejoin="round"/>
<path d="M243.6 427.6 L247.6 425.2" fill="none" stroke="#000" stroke-width="1.1" stroke-linecap="round" stroke-linejoin="round"/>
<path d="M356 715 L397.6 692" fill="none" stroke="#000" stroke-width="1.21" stroke-linecap="round" stroke-linejoin="round"/>
<path d="M382 725.5 L392 719.8" fill="none" stroke="#000" stroke-width="1.21" stroke-linecap="round" stroke-linejoin="round"/>
<path d="M379.5 749 L397.4 738.4" fill="none" stroke="#000" stroke-width="1.21" stroke-linecap="round" stroke-linejoin="round"/>
</g>
</svg>
</body>
</html>
